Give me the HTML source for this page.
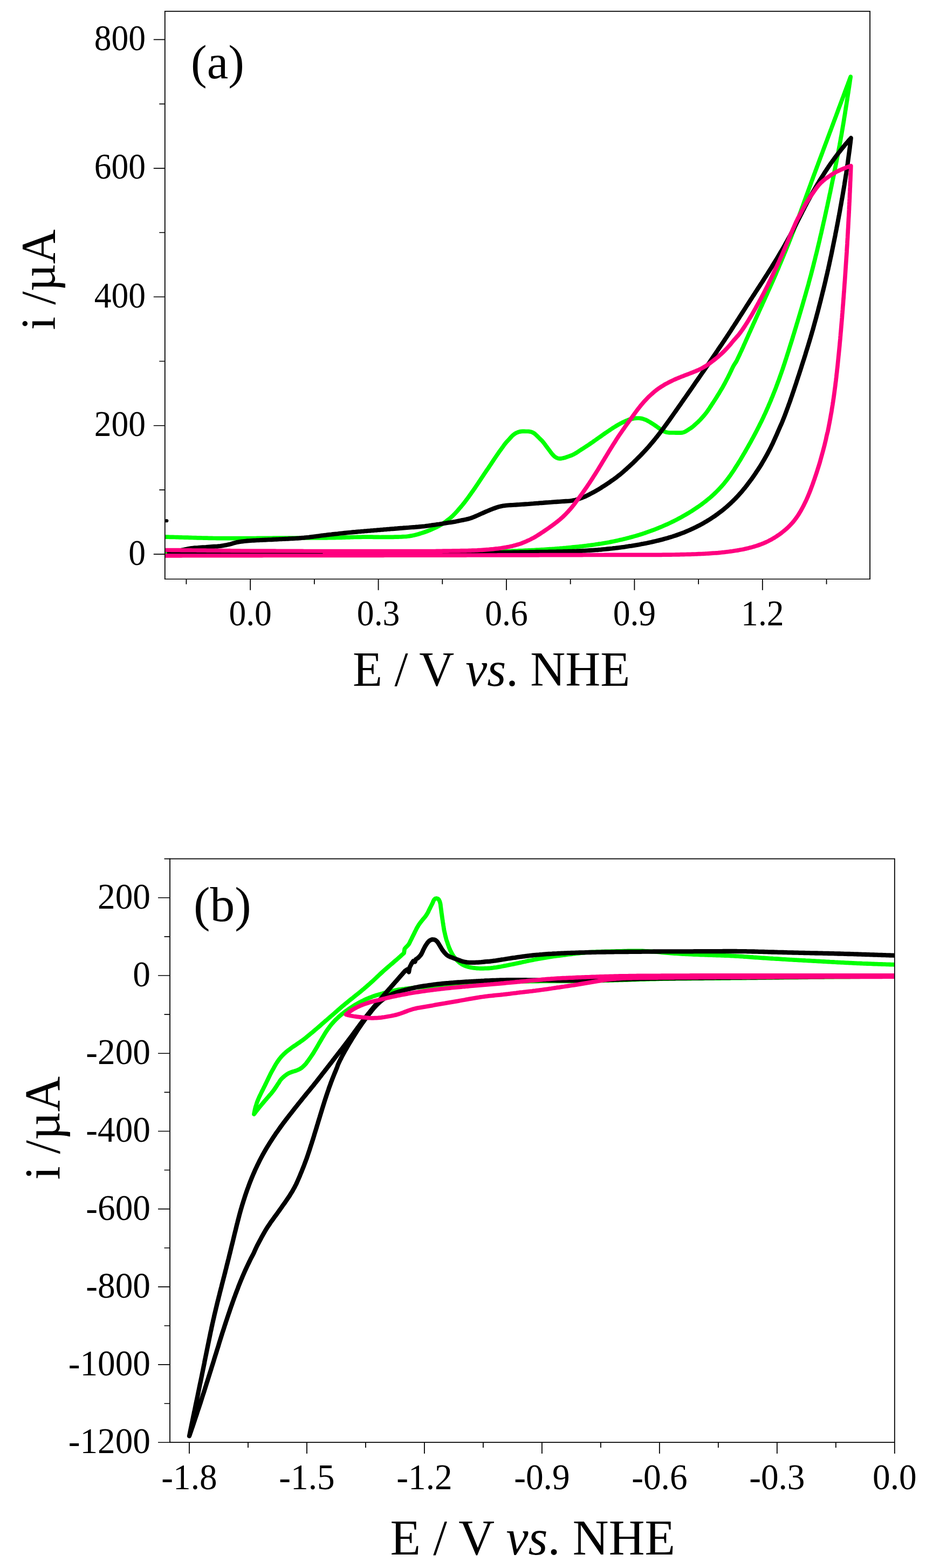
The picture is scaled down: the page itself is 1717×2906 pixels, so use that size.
<!DOCTYPE html>
<html lang="en">
<head>
<meta charset="utf-8">
<title>Cyclic voltammograms</title>
<style>
html,body{margin:0;padding:0;background:#fff;}
body{width:1717px;height:2906px;overflow:hidden;}
svg{display:block;}
text{font-family:"Liberation Serif","DejaVu Serif",serif;fill:#000;}
.tk{font-size:63.6px;}
.tkb{font-size:65.3px;}
.lb{font-size:90px;}
.lbb{font-size:92.5px;}
.pn{font-size:89px;}
.pnb{font-size:91.5px;}
.ln{stroke:#000;fill:none;}
</style>
</head>
<body>
<svg width="1717" height="2906" viewBox="0 0 1717 2906">
<rect x="0" y="0" width="1717" height="2906" fill="#ffffff"/>
<g id="panel-a">
<clipPath id="clip-panel-a"><rect x="305.8" y="20.85" width="1307.25" height="1052.4"/></clipPath>
<g clip-path="url(#clip-panel-a)">
<path d="M300.0 994.8 L303.0 994.9 L306.0 995.0 L309.0 995.1 L312.0 995.2 L315.0 995.3 L318.0 995.4 L321.0 995.4 L324.0 995.5 L327.0 995.6 L330.0 995.7 L333.0 995.8 L336.0 995.9 L339.0 996.0 L342.0 996.1 L345.0 996.1 L348.0 996.2 L351.0 996.3 L354.0 996.4 L357.0 996.5 L360.0 996.6 L363.0 996.7 L366.0 996.8 L369.0 996.8 L372.0 996.9 L375.0 997.0 L378.0 997.1 L381.0 997.2 L384.0 997.2 L387.0 997.3 L390.0 997.4 L393.0 997.4 L396.0 997.5 L399.0 997.5 L402.0 997.6 L405.0 997.6 L408.0 997.6 L411.0 997.7 L414.0 997.7 L417.0 997.7 L420.0 997.7 L423.0 997.7 L426.0 997.7 L429.0 997.7 L432.0 997.7 L435.0 997.7 L438.0 997.7 L441.0 997.7 L444.0 997.7 L447.0 997.7 L450.0 997.6 L453.0 997.6 L456.0 997.6 L459.0 997.6 L462.0 997.5 L465.0 997.5 L468.0 997.5 L471.0 997.5 L474.0 997.5 L477.0 997.4 L480.0 997.4 L483.0 997.4 L486.0 997.4 L489.0 997.4 L492.0 997.3 L495.0 997.3 L498.0 997.3 L501.0 997.3 L504.0 997.3 L507.0 997.2 L510.0 997.2 L513.0 997.2 L516.0 997.2 L519.0 997.1 L522.0 997.1 L525.0 997.1 L528.0 997.1 L531.0 997.1 L534.0 997.1 L537.0 997.0 L540.0 997.0 L543.0 997.0 L546.0 997.0 L549.0 997.0 L552.0 997.0 L555.0 997.0 L558.0 996.9 L561.0 996.9 L564.0 996.9 L567.0 996.9 L570.0 996.9 L573.0 996.9 L576.0 996.9 L579.0 996.9 L582.0 996.9 L585.0 996.9 L588.0 996.9 L591.0 996.9 L594.0 996.8 L597.0 996.8 L600.0 996.8 L603.0 996.8 L606.0 996.8 L609.0 996.7 L612.0 996.7 L615.0 996.7 L618.0 996.6 L621.0 996.6 L624.0 996.5 L627.0 996.4 L630.0 996.4 L633.0 996.3 L636.0 996.2 L639.0 996.1 L642.0 996.0 L645.0 995.9 L648.0 995.8 L651.0 995.7 L654.0 995.6 L657.0 995.5 L660.0 995.5 L663.0 995.4 L666.0 995.3 L669.0 995.3 L672.0 995.2 L675.0 995.2 L678.0 995.2 L681.0 995.1 L684.0 995.2 L687.0 995.2 L690.0 995.2 L693.0 995.3 L696.0 995.3 L699.0 995.4 L702.0 995.4 L705.0 995.5 L708.0 995.4 L711.0 995.4 L714.0 995.4 L717.0 995.3 L720.0 995.3 L723.0 995.3 L726.0 995.3 L729.0 995.3 L732.0 995.2 L735.0 995.2 L738.0 995.1 L741.0 995.0 L744.0 994.9 L747.0 994.7 L750.0 994.5 L753.0 994.3 L756.0 994.0 L758.9 993.6 L761.9 993.1 L764.8 992.6 L767.7 992.0 L770.7 991.3 L773.6 990.5 L776.4 989.7 L779.3 988.8 L782.2 987.9 L785.0 987.0 L787.9 986.0 L790.7 985.0 L793.5 984.0 L796.3 982.9 L799.1 981.7 L801.8 980.5 L804.5 979.3 L807.3 978.0 L810.0 976.7 L812.7 975.4 L815.3 973.9 L817.9 972.4 L820.4 970.9 L822.9 969.2 L825.4 967.5 L827.8 965.7 L830.1 963.9 L832.5 962.0 L834.8 960.1 L837.1 958.1 L839.3 956.1 L841.4 954.0 L843.5 951.9 L845.6 949.7 L847.6 947.5 L849.5 945.2 L851.5 942.9 L853.4 940.6 L855.4 938.4 L857.3 936.1 L859.2 933.8 L861.1 931.4 L862.9 929.0 L864.7 926.6 L866.5 924.2 L868.3 921.8 L870.0 919.3 L871.7 916.9 L873.5 914.4 L875.2 912.0 L877.0 909.6 L878.7 907.1 L880.4 904.7 L882.1 902.2 L883.8 899.7 L885.5 897.2 L887.2 894.7 L888.8 892.2 L890.5 889.7 L892.1 887.2 L893.8 884.7 L895.5 882.2 L897.1 879.7 L898.8 877.2 L900.5 874.7 L902.1 872.2 L903.8 869.8 L905.5 867.3 L907.1 864.8 L908.8 862.3 L910.5 859.8 L912.1 857.3 L913.8 854.8 L915.4 852.3 L917.1 849.8 L918.8 847.3 L920.5 844.8 L922.2 842.3 L923.9 839.9 L925.6 837.4 L927.4 835.0 L929.2 832.6 L930.9 830.1 L932.7 827.7 L934.4 825.3 L936.2 822.9 L938.1 820.5 L940.0 818.3 L942.1 816.1 L944.2 813.9 L946.2 811.7 L948.2 809.4 L950.3 807.3 L952.6 805.4 L955.0 803.6 L957.6 802.2 L960.4 801.0 L963.2 800.1 L966.1 799.6 L969.1 799.4 L972.1 799.4 L975.1 799.5 L978.2 799.5 L981.2 799.7 L984.1 800.2 L986.9 801.1 L989.5 802.5 L992.0 804.2 L994.2 806.3 L996.4 808.3 L998.5 810.5 L1000.6 812.6 L1002.8 814.7 L1004.9 816.8 L1006.9 819.1 L1008.7 821.4 L1010.6 823.8 L1012.3 826.2 L1014.1 828.6 L1015.9 831.0 L1017.7 833.4 L1019.6 835.8 L1021.3 838.3 L1023.2 840.7 L1025.2 843.0 L1027.3 845.2 L1029.6 847.0 L1032.1 848.5 L1034.7 849.5 L1037.5 849.9 L1040.4 849.8 L1043.3 849.3 L1046.2 848.6 L1049.1 847.7 L1052.1 846.6 L1054.9 845.7 L1057.7 844.7 L1060.5 843.6 L1063.2 842.3 L1065.8 840.9 L1068.4 839.4 L1070.9 837.8 L1073.4 836.1 L1075.9 834.4 L1078.4 832.8 L1081.0 831.2 L1083.5 829.6 L1086.0 827.9 L1088.5 826.3 L1091.1 824.7 L1093.5 823.0 L1096.0 821.3 L1098.5 819.6 L1100.9 817.8 L1103.4 816.1 L1105.8 814.4 L1108.3 812.6 L1110.7 810.9 L1113.2 809.2 L1115.6 807.5 L1118.1 805.7 L1120.5 804.0 L1123.0 802.3 L1125.5 800.6 L1128.0 798.9 L1130.5 797.2 L1132.9 795.6 L1135.4 793.9 L1138.0 792.3 L1140.5 790.7 L1143.1 789.1 L1145.6 787.6 L1148.3 786.1 L1150.9 784.7 L1153.6 783.3 L1156.3 782.0 L1159.0 780.8 L1161.7 779.6 L1164.5 778.5 L1167.4 777.5 L1170.2 776.7 L1173.2 776.0 L1176.1 775.5 L1179.1 775.1 L1182.1 775.0 L1185.1 775.0 L1188.0 775.4 L1191.0 775.9 L1193.8 776.8 L1196.6 777.8 L1199.4 779.1 L1202.0 780.5 L1204.6 782.0 L1207.2 783.6 L1209.7 785.2 L1212.2 786.8 L1214.7 788.5 L1217.2 790.2 L1219.6 792.0 L1222.1 793.7 L1224.6 795.4 L1227.1 797.0 L1229.6 798.7 L1232.3 799.9 L1235.1 801.0 L1238.0 801.5 L1241.0 801.8 L1244.0 802.0 L1247.0 802.0 L1250.0 802.0 L1253.1 802.1 L1256.0 802.0 L1259.1 802.2 L1262.1 802.1 L1265.1 801.9 L1267.9 801.1 L1270.6 799.9 L1273.2 798.4 L1275.8 796.8 L1278.3 795.1 L1280.8 793.5 L1283.3 791.8 L1285.6 789.9 L1287.8 787.9 L1290.0 785.8 L1292.2 783.9 L1294.5 781.9 L1296.6 779.7 L1298.7 777.6 L1300.7 775.4 L1302.7 773.2 L1304.7 770.9 L1306.6 768.7 L1308.5 766.3 L1310.3 764.0 L1312.1 761.5 L1313.8 759.1 L1315.5 756.6 L1317.1 754.0 L1318.8 751.5 L1320.4 749.0 L1322.1 746.5 L1323.7 744.0 L1325.3 741.5 L1326.9 739.0 L1328.5 736.4 L1330.1 733.9 L1331.7 731.3 L1333.3 728.8 L1334.8 726.2 L1336.4 723.6 L1337.9 721.1 L1339.5 718.5 L1340.9 715.9 L1342.4 713.2 L1343.8 710.6 L1345.2 708.0 L1346.6 705.3 L1348.0 702.6 L1349.4 700.0 L1350.7 697.3 L1352.1 694.6 L1353.4 691.9 L1354.7 689.2 L1356.0 686.5 L1357.2 683.8 L1358.5 681.1 L1359.9 678.4 L1361.4 675.8 L1363.0 673.4 L1364.6 671.0 L1366.1 668.4 L1367.4 665.7 L1368.7 662.9 L1370.0 660.2 L1371.3 657.5 L1372.5 654.8 L1373.8 652.0 L1375.1 649.3 L1376.3 646.5 L1377.6 643.8 L1378.8 641.0 L1380.0 638.3 L1381.3 635.5 L1382.5 632.8 L1383.7 630.0 L1384.9 627.3 L1386.2 624.5 L1387.4 621.8 L1388.6 619.0 L1389.8 616.3 L1391.1 613.6 L1392.3 610.8 L1393.5 608.1 L1394.8 605.4 L1396.0 602.6 L1397.2 599.9 L1398.5 597.2 L1399.7 594.4 L1400.9 591.7 L1402.2 588.9 L1403.4 586.2 L1404.6 583.5 L1405.9 580.8 L1407.1 578.0 L1408.3 575.3 L1409.6 572.6 L1410.8 569.8 L1412.1 567.1 L1413.3 564.4 L1414.5 561.6 L1415.8 558.9 L1417.0 556.2 L1418.3 553.4 L1419.5 550.7 L1420.7 548.0 L1422.0 545.3 L1423.2 542.5 L1424.4 539.8 L1425.7 537.0 L1426.9 534.3 L1428.1 531.6 L1429.3 528.8 L1430.6 526.1 L1431.8 523.3 L1433.0 520.6 L1434.2 517.8 L1435.4 515.1 L1436.6 512.3 L1437.8 509.6 L1439.0 506.8 L1440.1 504.1 L1441.3 501.3 L1442.5 498.6 L1443.7 495.8 L1444.8 493.0 L1446.0 490.3 L1447.2 487.5 L1448.3 484.8 L1449.5 482.0 L1450.6 479.2 L1451.8 476.4 L1452.9 473.7 L1454.1 470.9 L1455.2 468.1 L1456.4 465.4 L1457.5 462.6 L1458.6 459.8 L1459.8 457.0 L1460.9 454.3 L1462.0 451.5 L1463.1 448.7 L1464.2 445.9 L1465.3 443.1 L1466.4 440.3 L1467.5 437.5 L1468.6 434.7 L1469.7 431.9 L1470.8 429.2 L1471.9 426.4 L1472.9 423.6 L1474.0 420.7 L1475.1 417.9 L1476.1 415.1 L1477.2 412.3 L1478.2 409.5 L1479.3 406.7 L1480.3 403.9 L1481.4 401.1 L1482.4 398.3 L1483.4 395.4 L1484.5 392.6 L1485.5 389.8 L1486.5 387.0 L1487.5 384.2 L1488.6 381.4 L1489.6 378.5 L1490.6 375.7 L1491.6 372.9 L1492.6 370.1 L1493.7 367.2 L1494.7 364.4 L1495.7 361.6 L1496.7 358.8 L1497.8 356.0 L1498.8 353.1 L1499.8 350.3 L1500.8 347.5 L1501.9 344.7 L1502.9 341.9 L1503.9 339.0 L1504.9 336.2 L1506.0 333.4 L1507.0 330.6 L1508.0 327.8 L1509.1 324.9 L1510.1 322.1 L1511.2 319.3 L1512.2 316.5 L1513.3 313.7 L1514.3 310.9 L1515.3 308.1 L1516.4 305.3 L1517.4 302.4 L1518.5 299.6 L1519.5 296.8 L1520.6 294.0 L1521.6 291.2 L1522.7 288.4 L1523.7 285.6 L1524.8 282.8 L1525.8 280.0 L1526.9 277.1 L1527.9 274.3 L1529.0 271.5 L1530.0 268.7 L1531.1 265.9 L1532.1 263.1 L1533.2 260.3 L1534.2 257.5 L1535.3 254.7 L1536.3 251.8 L1537.4 249.0 L1538.4 246.2 L1539.5 243.4 L1540.5 240.6 L1541.6 237.8 L1542.6 235.0 L1543.7 232.2 L1544.7 229.4 L1545.8 226.5 L1546.8 223.7 L1547.9 220.9 L1548.9 218.1 L1550.0 215.3 L1551.0 212.5 L1552.1 209.7 L1553.1 206.9 L1554.1 204.1 L1555.2 201.2 L1556.2 198.4 L1557.3 195.6 L1558.3 192.8 L1559.4 190.0 L1560.4 187.2 L1561.5 184.4 L1562.5 181.6 L1563.6 178.8 L1564.6 175.9 L1565.7 173.1 L1566.7 170.3 L1567.8 167.5 L1568.8 164.7 L1569.9 161.9 L1570.9 159.1 L1572.0 156.3 L1573.0 153.4 L1574.1 150.6 L1575.1 147.8 L1576.2 145.0 L1577.2 142.2 L1577.2 142.2 L1576.8 145.2 L1576.3 148.1 L1575.9 151.1 L1575.5 154.1 L1575.0 157.0 L1574.6 160.0 L1574.1 163.0 L1573.7 165.9 L1573.2 168.9 L1572.8 171.9 L1572.3 174.8 L1571.9 177.8 L1571.4 180.7 L1571.0 183.7 L1570.5 186.7 L1570.0 189.6 L1569.6 192.6 L1569.1 195.6 L1568.6 198.5 L1568.2 201.5 L1567.7 204.4 L1567.2 207.4 L1566.8 210.4 L1566.3 213.3 L1565.8 216.3 L1565.3 219.3 L1564.9 222.2 L1564.4 225.2 L1563.9 228.1 L1563.4 231.1 L1562.9 234.0 L1562.4 237.0 L1561.9 240.0 L1561.4 242.9 L1560.9 245.9 L1560.4 248.8 L1559.9 251.8 L1559.3 254.7 L1558.8 257.7 L1558.3 260.6 L1557.8 263.6 L1557.2 266.5 L1556.7 269.5 L1556.1 272.4 L1555.6 275.4 L1555.0 278.3 L1554.5 281.2 L1553.9 284.2 L1553.4 287.1 L1552.8 290.1 L1552.2 293.0 L1551.6 296.0 L1551.1 298.9 L1550.5 301.8 L1549.9 304.8 L1549.3 307.7 L1548.7 310.7 L1548.1 313.6 L1547.5 316.5 L1546.9 319.5 L1546.4 322.4 L1545.8 325.3 L1545.2 328.3 L1544.6 331.2 L1543.9 334.1 L1543.3 337.1 L1542.7 340.0 L1542.1 342.9 L1541.5 345.9 L1540.9 348.8 L1540.3 351.7 L1539.7 354.7 L1539.1 357.6 L1538.4 360.5 L1537.8 363.5 L1537.2 366.4 L1536.6 369.3 L1535.9 372.3 L1535.3 375.2 L1534.7 378.1 L1534.1 381.1 L1533.4 384.0 L1532.8 386.9 L1532.1 389.8 L1531.5 392.8 L1530.9 395.7 L1530.2 398.6 L1529.6 401.6 L1528.9 404.5 L1528.3 407.4 L1527.6 410.3 L1526.9 413.2 L1526.3 416.2 L1525.6 419.1 L1525.0 422.0 L1524.3 424.9 L1523.6 427.9 L1523.0 430.8 L1522.3 433.7 L1521.6 436.6 L1520.9 439.5 L1520.2 442.5 L1519.6 445.4 L1518.9 448.3 L1518.2 451.2 L1517.5 454.1 L1516.8 457.0 L1516.1 460.0 L1515.4 462.9 L1514.7 465.8 L1514.0 468.7 L1513.3 471.6 L1512.5 474.5 L1511.8 477.4 L1511.1 480.3 L1510.4 483.2 L1509.6 486.1 L1508.9 489.0 L1508.2 492.0 L1507.4 494.9 L1506.7 497.8 L1505.9 500.7 L1505.2 503.6 L1504.4 506.5 L1503.7 509.3 L1502.9 512.2 L1502.1 515.1 L1501.3 518.0 L1500.5 520.9 L1499.7 523.8 L1499.0 526.7 L1498.2 529.6 L1497.4 532.5 L1496.5 535.4 L1495.7 538.2 L1494.9 541.1 L1494.1 544.0 L1493.3 546.9 L1492.4 549.8 L1491.6 552.7 L1490.8 555.5 L1489.9 558.4 L1489.1 561.3 L1488.3 564.2 L1487.4 567.1 L1486.6 569.9 L1485.7 572.8 L1484.9 575.7 L1484.0 578.6 L1483.2 581.4 L1482.3 584.3 L1481.5 587.2 L1480.6 590.1 L1479.7 592.9 L1478.9 595.8 L1478.0 598.7 L1477.1 601.5 L1476.3 604.4 L1475.4 607.3 L1474.5 610.2 L1473.7 613.0 L1472.8 615.9 L1471.9 618.8 L1471.0 621.6 L1470.2 624.5 L1469.3 627.4 L1468.4 630.2 L1467.5 633.1 L1466.6 636.0 L1465.7 638.8 L1464.8 641.7 L1463.9 644.5 L1463.0 647.4 L1462.1 650.3 L1461.2 653.1 L1460.3 656.0 L1459.4 658.8 L1458.5 661.7 L1457.6 664.6 L1456.6 667.4 L1455.7 670.3 L1454.8 673.1 L1453.8 676.0 L1452.9 678.8 L1451.9 681.7 L1451.0 684.5 L1450.0 687.3 L1449.0 690.2 L1448.0 693.0 L1447.0 695.8 L1446.0 698.6 L1445.0 701.5 L1444.0 704.3 L1442.9 707.1 L1441.9 709.9 L1440.9 712.7 L1439.8 715.5 L1438.8 718.3 L1437.7 721.1 L1436.6 723.9 L1435.5 726.6 L1434.4 729.4 L1433.3 732.2 L1432.2 735.0 L1431.0 737.7 L1429.9 740.5 L1428.8 743.3 L1427.6 746.0 L1426.4 748.8 L1425.2 751.6 L1424.1 754.3 L1422.8 757.0 L1421.6 759.8 L1420.4 762.5 L1419.2 765.2 L1417.9 768.0 L1416.6 770.7 L1415.4 773.4 L1414.1 776.1 L1412.8 778.8 L1411.5 781.5 L1410.1 784.2 L1408.8 786.8 L1407.5 789.5 L1406.1 792.2 L1404.8 794.9 L1403.4 797.5 L1402.0 800.2 L1400.6 802.8 L1399.2 805.5 L1397.8 808.1 L1396.4 810.8 L1394.9 813.4 L1393.5 816.0 L1392.1 818.7 L1390.6 821.3 L1389.1 823.9 L1387.7 826.5 L1386.2 829.1 L1384.7 831.7 L1383.2 834.4 L1381.7 837.0 L1380.2 839.6 L1378.7 842.1 L1377.2 844.7 L1375.6 847.3 L1374.1 849.9 L1372.6 852.5 L1371.0 855.0 L1369.4 857.6 L1367.8 860.2 L1366.2 862.7 L1364.6 865.2 L1363.0 867.7 L1361.4 870.3 L1359.7 872.8 L1358.1 875.2 L1356.4 877.7 L1354.7 880.2 L1352.9 882.6 L1351.2 885.0 L1349.4 887.4 L1347.6 889.8 L1345.7 892.1 L1343.9 894.4 L1342.0 896.7 L1340.0 899.0 L1338.1 901.2 L1336.1 903.4 L1334.0 905.6 L1332.0 907.8 L1329.9 909.9 L1327.8 912.0 L1325.6 914.1 L1323.5 916.1 L1321.3 918.1 L1319.1 920.1 L1316.8 922.1 L1314.5 924.0 L1312.2 925.9 L1309.9 927.8 L1307.5 929.7 L1305.1 931.5 L1302.7 933.3 L1300.3 935.1 L1297.9 936.8 L1295.4 938.6 L1292.9 940.3 L1290.4 942.0 L1287.9 943.6 L1285.4 945.3 L1282.9 946.9 L1280.3 948.5 L1277.8 950.1 L1275.2 951.6 L1272.6 953.1 L1270.0 954.7 L1267.4 956.1 L1264.8 957.6 L1262.2 959.1 L1259.5 960.5 L1256.9 961.9 L1254.2 963.3 L1251.6 964.6 L1248.9 966.0 L1246.2 967.3 L1243.5 968.6 L1240.8 969.9 L1238.1 971.2 L1235.3 972.4 L1232.6 973.6 L1229.8 974.8 L1227.1 976.0 L1224.3 977.1 L1221.5 978.3 L1218.8 979.4 L1216.0 980.5 L1213.2 981.6 L1210.4 982.6 L1207.6 983.7 L1204.8 984.7 L1201.9 985.7 L1199.1 986.7 L1196.3 987.7 L1193.4 988.6 L1190.6 989.6 L1187.7 990.5 L1184.9 991.4 L1182.0 992.2 L1179.1 993.1 L1176.2 993.9 L1173.3 994.7 L1170.5 995.5 L1167.6 996.3 L1164.7 997.1 L1161.8 997.8 L1158.9 998.6 L1155.9 999.3 L1153.0 1000.0 L1150.1 1000.6 L1147.2 1001.3 L1144.3 1001.9 L1141.3 1002.6 L1138.4 1003.2 L1135.5 1003.8 L1132.5 1004.4 L1129.6 1005.0 L1126.6 1005.5 L1123.7 1006.0 L1120.7 1006.5 L1117.8 1007.0 L1114.8 1007.5 L1111.8 1007.9 L1108.9 1008.4 L1105.9 1008.8 L1102.9 1009.3 L1100.0 1009.7 L1097.0 1010.1 L1094.0 1010.5 L1091.0 1010.9 L1088.1 1011.3 L1085.1 1011.7 L1082.1 1012.0 L1079.1 1012.4 L1076.2 1012.7 L1073.2 1013.0 L1070.2 1013.3 L1067.2 1013.6 L1064.2 1013.9 L1061.2 1014.2 L1058.3 1014.5 L1055.3 1014.8 L1052.3 1015.1 L1049.3 1015.4 L1046.3 1015.6 L1043.3 1015.9 L1040.3 1016.1 L1037.3 1016.4 L1034.4 1016.6 L1031.4 1016.8 L1028.4 1017.1 L1025.4 1017.3 L1022.4 1017.5 L1019.4 1017.7 L1016.4 1017.9 L1013.4 1018.1 L1010.4 1018.3 L1007.4 1018.5 L1004.4 1018.6 L1001.4 1018.8 L998.5 1019.0 L995.5 1019.1 L992.5 1019.3 L989.5 1019.5 L986.5 1019.6 L983.5 1019.8 L980.5 1019.9 L977.5 1020.1 L974.5 1020.2 L971.5 1020.3 L968.5 1020.5 L965.5 1020.6 L962.5 1020.7 L959.5 1020.9 L956.5 1021.0 L953.5 1021.1 L950.5 1021.2 L947.5 1021.4 L944.5 1021.5 L941.5 1021.6 L938.6 1021.7 L935.6 1021.8 L932.6 1021.9 L929.6 1022.0 L926.6 1022.1 L923.6 1022.2 L920.6 1022.3 L917.6 1022.4 L914.6 1022.5 L911.6 1022.6 L908.6 1022.7 L905.6 1022.8 L902.6 1022.8 L899.6 1022.9 L896.6 1023.0 L893.6 1023.1 L890.6 1023.2 L887.6 1023.2 L884.6 1023.3 L881.6 1023.4 L878.6 1023.4 L875.6 1023.5 L872.6 1023.6 L869.6 1023.7 L866.6 1023.7 L863.6 1023.8 L860.6 1023.9 L857.6 1023.9 L854.6 1024.0 L851.6 1024.1 L848.6 1024.1 L845.6 1024.2 L842.6 1024.2 L839.6 1024.3 L836.7 1024.3 L833.7 1024.4 L830.7 1024.4 L827.7 1024.5 L824.7 1024.5 L821.7 1024.6 L818.7 1024.6 L815.7 1024.7 L812.7 1024.7 L809.7 1024.8 L806.7 1024.8 L803.7 1024.8 L800.7 1024.9 L797.7 1024.9 L794.7 1024.9 L791.7 1025.0 L788.7 1025.0 L785.7 1025.0 L782.7 1025.0 L779.7 1025.1 L776.7 1025.1 L773.7 1025.1 L770.7 1025.1 L767.7 1025.1 L764.7 1025.1 L761.7 1025.2 L758.7 1025.2 L755.7 1025.2 L752.7 1025.2 L749.7 1025.2 L746.7 1025.2 L743.7 1025.2 L740.7 1025.2 L737.7 1025.2 L734.7 1025.2 L731.7 1025.2 L728.7 1025.2 L725.7 1025.2 L722.7 1025.2 L719.7 1025.2 L716.7 1025.2 L713.7 1025.2 L710.7 1025.2 L707.7 1025.2 L704.7 1025.2 L701.7 1025.2 L698.7 1025.3 L695.7 1025.3 L692.7 1025.3 L689.8 1025.3 L686.8 1025.3 L683.8 1025.3 L680.8 1025.3 L677.8 1025.3 L674.8 1025.3 L671.8 1025.3 L668.8 1025.3 L665.8 1025.3 L662.8 1025.3 L659.8 1025.4 L656.8 1025.4 L653.8 1025.4 L650.8 1025.4 L647.8 1025.4 L644.8 1025.4 L641.8 1025.4 L638.8 1025.4 L635.8 1025.4 L632.8 1025.4 L629.8 1025.4 L626.8 1025.4 L623.8 1025.4 L620.8 1025.4 L617.8 1025.5 L614.8 1025.5 L611.8 1025.5 L608.8 1025.5 L605.8 1025.5 L602.8 1025.5 L599.8 1025.5 L596.8 1025.5 L593.8 1025.5 L590.8 1025.5 L587.8 1025.5 L584.8 1025.5 L581.8 1025.5 L578.8 1025.5 L575.8 1025.5 L572.8 1025.5 L569.8 1025.5 L566.8 1025.5 L563.8 1025.5 L560.8 1025.5 L557.8 1025.5 L554.8 1025.5 L551.8 1025.5 L548.8 1025.5 L545.8 1025.5 L542.8 1025.5 L539.8 1025.5 L536.8 1025.5 L533.9 1025.5 L530.9 1025.5 L527.9 1025.5 L524.9 1025.5 L521.9 1025.5 L518.9 1025.5 L515.9 1025.5 L512.9 1025.5 L509.9 1025.5 L506.9 1025.5 L503.9 1025.5 L500.9 1025.5 L497.9 1025.5 L494.9 1025.5 L491.9 1025.5 L488.9 1025.5 L485.9 1025.5 L482.9 1025.5 L479.9 1025.5 L476.9 1025.5 L473.9 1025.5 L470.9 1025.5 L467.9 1025.5 L464.9 1025.5 L461.9 1025.5 L458.9 1025.5 L455.9 1025.5 L452.9 1025.5 L449.9 1025.5 L446.9 1025.5 L443.9 1025.5 L440.9 1025.5 L437.9 1025.5 L434.9 1025.5 L431.9 1025.5 L428.9 1025.5 L425.9 1025.5 L422.9 1025.5 L419.9 1025.5 L416.9 1025.5 L413.9 1025.5 L410.9 1025.5 L407.9 1025.5 L404.9 1025.5 L401.9 1025.5 L398.9 1025.5 L395.9 1025.5 L392.9 1025.5 L389.9 1025.5 L386.9 1025.5 L383.9 1025.5 L380.9 1025.5 L378.0 1025.5 L375.0 1025.5 L372.0 1025.5 L369.0 1025.5 L366.0 1025.5 L363.0 1025.5 L360.0 1025.5 L357.0 1025.5 L354.0 1025.5 L351.0 1025.5 L348.0 1025.5 L345.0 1025.5 L342.0 1025.5 L339.0 1025.5 L336.0 1025.5 L333.0 1025.5 L330.0 1025.5 L327.0 1025.5 L324.0 1025.5 L321.0 1025.5 L318.0 1025.5 L315.0 1025.5 L312.0 1025.5 L309.0 1025.5 L306.0 1025.5 L303.0 1025.5 L300.0 1025.5" fill="none" stroke="#00ff00" stroke-width="7.7" stroke-linejoin="round" stroke-linecap="round"/>
<path d="M313.7 1024.5 L316.6 1023.9 L319.6 1023.3 L322.5 1022.6 L325.4 1022.0 L328.4 1021.4 L331.3 1020.8 L334.3 1020.2 L337.2 1019.5 L340.1 1018.9 L343.1 1018.3 L346.0 1017.6 L348.9 1017.0 L351.9 1016.5 L354.9 1016.0 L357.8 1015.7 L360.8 1015.4 L363.8 1015.2 L366.8 1015.1 L369.8 1014.8 L372.8 1014.6 L375.8 1014.4 L378.8 1014.2 L381.8 1014.0 L384.8 1013.7 L387.8 1013.5 L390.8 1013.3 L393.8 1013.1 L396.8 1012.9 L399.8 1012.8 L402.8 1012.6 L405.7 1012.3 L408.7 1012.0 L411.7 1011.5 L414.6 1011.0 L417.6 1010.4 L420.5 1009.9 L423.5 1009.3 L426.4 1008.6 L429.3 1007.8 L432.2 1006.9 L435.1 1006.1 L438.0 1005.3 L440.9 1004.7 L443.8 1004.2 L446.8 1003.7 L449.8 1003.4 L452.8 1003.0 L455.8 1002.7 L458.7 1002.4 L461.7 1002.2 L464.7 1002.0 L467.7 1001.8 L470.7 1001.6 L473.7 1001.5 L476.7 1001.3 L479.7 1001.2 L482.7 1001.0 L485.7 1000.9 L488.7 1000.7 L491.7 1000.6 L494.7 1000.5 L497.7 1000.3 L500.7 1000.2 L503.7 1000.1 L506.7 999.9 L509.7 999.8 L512.7 999.6 L515.7 999.5 L518.7 999.3 L521.7 999.2 L524.7 999.0 L527.7 998.9 L530.7 998.7 L533.7 998.6 L536.7 998.4 L539.7 998.3 L542.7 998.1 L545.7 998.0 L548.7 997.8 L551.7 997.6 L554.7 997.4 L557.7 997.1 L560.6 996.8 L563.6 996.6 L566.6 996.3 L569.6 996.0 L572.6 995.7 L575.6 995.3 L578.5 994.9 L581.5 994.6 L584.5 994.2 L587.5 993.8 L590.5 993.4 L593.4 993.0 L596.4 992.6 L599.4 992.2 L602.4 991.9 L605.4 991.5 L608.3 991.1 L611.3 990.8 L614.3 990.5 L617.3 990.1 L620.3 989.8 L623.2 989.5 L626.2 989.2 L629.2 988.8 L632.2 988.5 L635.2 988.2 L638.2 987.9 L641.2 987.6 L644.1 987.3 L647.1 987.0 L650.1 986.7 L653.1 986.4 L656.1 986.1 L659.1 985.9 L662.1 985.6 L665.1 985.3 L668.1 985.1 L671.1 984.8 L674.0 984.6 L677.0 984.3 L680.0 984.1 L683.0 983.8 L686.0 983.6 L689.0 983.3 L692.0 983.1 L695.0 982.8 L698.0 982.6 L701.0 982.3 L704.0 982.1 L707.0 981.8 L709.9 981.6 L712.9 981.3 L715.9 981.1 L718.9 980.8 L721.9 980.6 L724.9 980.3 L727.9 980.1 L730.9 979.9 L733.9 979.6 L736.9 979.4 L739.9 979.1 L742.9 978.9 L745.9 978.7 L748.8 978.4 L751.8 978.2 L754.8 978.0 L757.8 977.8 L760.8 977.5 L763.8 977.3 L766.8 977.1 L769.8 976.9 L772.8 976.6 L775.8 976.4 L778.8 976.1 L781.8 975.8 L784.8 975.5 L787.7 975.2 L790.7 974.8 L793.7 974.4 L796.7 974.0 L799.6 973.6 L802.6 973.1 L805.6 972.7 L808.5 972.3 L811.5 971.8 L814.5 971.4 L817.5 970.9 L820.4 970.5 L823.4 970.0 L826.4 969.5 L829.3 969.1 L832.3 968.6 L835.3 968.2 L838.2 967.7 L841.2 967.2 L844.2 966.7 L847.1 966.1 L850.0 965.5 L853.0 964.9 L855.9 964.3 L858.9 963.7 L861.8 963.1 L864.7 962.5 L867.7 961.8 L870.6 961.0 L873.4 960.1 L876.2 959.1 L879.0 958.0 L881.8 956.8 L884.5 955.6 L887.3 954.4 L890.0 953.1 L892.7 951.9 L895.5 950.7 L898.2 949.5 L901.0 948.3 L903.8 947.1 L906.5 946.0 L909.3 944.8 L912.1 943.7 L914.9 942.6 L917.7 941.6 L920.5 940.6 L923.4 939.7 L926.3 938.9 L929.2 938.2 L932.1 937.6 L935.1 937.2 L938.1 936.8 L941.1 936.5 L944.1 936.3 L947.1 936.1 L950.1 936.0 L953.1 935.8 L956.1 935.6 L959.0 935.4 L962.0 935.2 L965.0 935.0 L968.0 934.8 L971.0 934.6 L974.0 934.4 L977.0 934.2 L980.0 934.0 L983.0 933.7 L986.0 933.5 L989.0 933.3 L992.0 933.0 L995.0 932.8 L998.0 932.6 L1001.0 932.3 L1004.0 932.1 L1006.9 931.9 L1009.9 931.6 L1012.9 931.4 L1015.9 931.2 L1018.9 931.0 L1021.9 930.8 L1024.9 930.5 L1027.9 930.3 L1030.9 930.1 L1033.9 929.9 L1036.9 929.7 L1039.9 929.5 L1042.9 929.3 L1045.9 929.1 L1048.9 928.9 L1051.9 928.7 L1054.9 928.5 L1057.9 928.2 L1060.9 927.8 L1063.8 927.2 L1066.7 926.6 L1069.6 925.8 L1072.5 925.0 L1075.3 924.0 L1078.1 923.0 L1080.9 921.8 L1083.7 920.7 L1086.4 919.5 L1089.1 918.2 L1091.8 916.8 L1094.5 915.4 L1097.1 914.0 L1099.8 912.6 L1102.4 911.2 L1105.0 909.7 L1107.6 908.2 L1110.2 906.7 L1112.8 905.1 L1115.3 903.5 L1117.8 901.9 L1120.4 900.3 L1122.9 898.6 L1125.4 897.0 L1127.9 895.3 L1130.4 893.6 L1132.8 891.9 L1135.3 890.2 L1137.8 888.5 L1140.2 886.7 L1142.6 884.9 L1145.0 883.1 L1147.3 881.2 L1149.7 879.4 L1152.0 877.5 L1154.3 875.5 L1156.6 873.6 L1158.8 871.6 L1161.1 869.6 L1163.3 867.6 L1165.5 865.6 L1167.7 863.5 L1169.9 861.5 L1172.1 859.4 L1174.3 857.4 L1176.4 855.3 L1178.6 853.2 L1180.7 851.0 L1182.8 848.9 L1185.0 846.8 L1187.1 844.7 L1189.1 842.6 L1191.2 840.4 L1193.2 838.3 L1195.2 836.1 L1197.2 834.0 L1199.2 831.8 L1201.2 829.6 L1203.2 827.3 L1205.2 825.0 L1207.1 822.7 L1209.1 820.4 L1211.0 818.1 L1212.9 815.8 L1214.8 813.5 L1216.7 811.1 L1218.6 808.8 L1220.4 806.4 L1222.3 804.0 L1224.1 801.6 L1225.9 799.2 L1227.7 796.8 L1229.6 794.4 L1231.4 792.0 L1233.1 789.6 L1234.9 787.1 L1236.7 784.7 L1238.5 782.2 L1240.2 779.8 L1242.0 777.3 L1243.7 774.9 L1245.5 772.4 L1247.2 770.0 L1248.9 767.5 L1250.7 765.0 L1252.4 762.6 L1254.1 760.1 L1255.9 757.6 L1257.6 755.2 L1259.3 752.7 L1261.0 750.3 L1262.8 747.8 L1264.5 745.3 L1266.2 742.9 L1267.9 740.4 L1269.7 737.9 L1271.4 735.5 L1273.1 733.0 L1274.8 730.6 L1276.5 728.1 L1278.3 725.6 L1280.0 723.2 L1281.7 720.7 L1283.4 718.2 L1285.1 715.7 L1286.8 713.3 L1288.5 710.8 L1290.2 708.3 L1291.9 705.9 L1293.7 703.4 L1295.4 700.9 L1297.1 698.5 L1298.8 696.0 L1300.5 693.5 L1302.2 691.0 L1303.9 688.6 L1305.6 686.1 L1307.3 683.6 L1309.0 681.2 L1310.7 678.7 L1312.4 676.2 L1314.1 673.7 L1315.8 671.2 L1317.4 668.8 L1319.1 666.3 L1320.8 663.8 L1322.5 661.3 L1324.2 658.8 L1325.9 656.4 L1327.6 653.9 L1329.3 651.4 L1330.9 648.9 L1332.6 646.4 L1334.3 643.9 L1336.0 641.4 L1337.7 639.0 L1339.3 636.5 L1341.0 634.0 L1342.7 631.5 L1344.3 629.0 L1346.0 626.5 L1347.7 624.0 L1349.3 621.5 L1351.0 619.0 L1352.6 616.5 L1354.3 614.0 L1355.9 611.5 L1357.5 608.9 L1359.2 606.4 L1360.8 603.9 L1362.4 601.4 L1364.1 598.9 L1365.7 596.3 L1367.3 593.8 L1369.0 591.3 L1370.6 588.8 L1372.2 586.2 L1373.8 583.7 L1375.4 581.2 L1377.0 578.7 L1378.7 576.1 L1380.3 573.6 L1381.9 571.1 L1383.5 568.5 L1385.1 566.0 L1386.8 563.5 L1388.4 561.0 L1390.0 558.5 L1391.6 555.9 L1393.3 553.4 L1394.9 550.9 L1396.5 548.4 L1398.2 545.9 L1399.8 543.3 L1401.4 540.8 L1403.1 538.3 L1404.7 535.8 L1406.3 533.3 L1408.0 530.7 L1409.6 528.2 L1411.2 525.7 L1412.9 523.2 L1414.5 520.7 L1416.1 518.2 L1417.7 515.6 L1419.3 513.1 L1421.0 510.6 L1422.6 508.0 L1424.2 505.5 L1425.8 503.0 L1427.4 500.4 L1429.0 497.9 L1430.6 495.4 L1432.1 492.8 L1433.7 490.3 L1435.3 487.7 L1436.9 485.1 L1438.4 482.6 L1440.0 480.0 L1441.5 477.5 L1443.1 474.9 L1444.6 472.3 L1446.1 469.7 L1447.6 467.2 L1449.2 464.6 L1450.7 462.0 L1452.2 459.4 L1453.7 456.8 L1455.2 454.2 L1456.6 451.6 L1458.1 449.0 L1459.6 446.4 L1461.0 443.7 L1462.5 441.1 L1463.9 438.5 L1465.4 435.9 L1466.8 433.2 L1468.2 430.6 L1469.6 427.9 L1471.0 425.3 L1472.4 422.6 L1473.8 420.0 L1475.2 417.3 L1476.6 414.6 L1477.9 411.9 L1479.3 409.3 L1480.6 406.6 L1482.0 403.9 L1483.4 401.2 L1484.7 398.5 L1486.1 395.9 L1487.4 393.2 L1488.8 390.5 L1490.2 387.8 L1491.5 385.2 L1492.9 382.5 L1494.3 379.8 L1495.7 377.2 L1497.1 374.5 L1498.5 371.9 L1500.0 369.3 L1501.4 366.6 L1502.8 364.0 L1504.3 361.4 L1505.8 358.8 L1507.2 356.2 L1508.7 353.5 L1510.2 350.9 L1511.7 348.4 L1513.2 345.8 L1514.7 343.2 L1516.2 340.6 L1517.8 338.1 L1519.3 335.5 L1520.9 333.0 L1522.5 330.4 L1524.1 327.9 L1525.7 325.4 L1527.3 322.8 L1528.9 320.3 L1530.5 317.8 L1532.2 315.3 L1533.8 312.8 L1535.5 310.3 L1537.1 307.8 L1538.8 305.4 L1540.5 302.9 L1542.3 300.5 L1544.0 298.0 L1545.8 295.6 L1547.5 293.2 L1549.3 290.8 L1551.1 288.4 L1552.9 286.0 L1554.7 283.6 L1556.6 281.2 L1558.4 278.9 L1560.3 276.5 L1562.2 274.2 L1564.1 271.9 L1566.0 269.5 L1567.9 267.2 L1569.9 264.9 L1571.9 262.6 L1573.8 260.3 L1575.8 258.1 L1577.8 255.8 L1577.8 255.8 L1577.5 258.8 L1577.1 261.8 L1576.8 264.7 L1576.4 267.7 L1576.0 270.7 L1575.7 273.6 L1575.3 276.6 L1574.9 279.6 L1574.5 282.6 L1574.1 285.5 L1573.7 288.5 L1573.3 291.5 L1572.9 294.4 L1572.5 297.4 L1572.1 300.4 L1571.7 303.3 L1571.2 306.3 L1570.8 309.3 L1570.5 312.2 L1570.0 315.2 L1569.5 318.2 L1569.1 321.1 L1568.6 324.1 L1568.1 327.0 L1567.7 330.0 L1567.2 333.0 L1566.7 335.9 L1566.2 338.9 L1565.8 341.8 L1565.3 344.8 L1564.8 347.8 L1564.3 350.7 L1563.8 353.7 L1563.3 356.6 L1562.8 359.6 L1562.3 362.5 L1561.8 365.5 L1561.3 368.4 L1560.7 371.4 L1560.2 374.4 L1559.7 377.3 L1559.2 380.3 L1558.6 383.2 L1558.1 386.2 L1557.6 389.1 L1557.1 392.1 L1556.5 395.0 L1556.0 398.0 L1555.4 400.9 L1554.9 403.9 L1554.3 406.8 L1553.8 409.7 L1553.2 412.7 L1552.7 415.6 L1552.1 418.6 L1551.5 421.5 L1551.0 424.5 L1550.4 427.4 L1549.8 430.4 L1549.2 433.3 L1548.7 436.2 L1548.1 439.2 L1547.5 442.1 L1546.9 445.1 L1546.3 448.0 L1545.7 450.9 L1545.1 453.9 L1544.5 456.8 L1543.9 459.7 L1543.3 462.7 L1542.7 465.6 L1542.1 468.6 L1541.5 471.5 L1540.9 474.4 L1540.2 477.4 L1539.6 480.3 L1539.0 483.2 L1538.3 486.1 L1537.7 489.1 L1537.1 492.0 L1536.4 494.9 L1535.8 497.8 L1535.1 500.8 L1534.4 503.7 L1533.8 506.6 L1533.1 509.5 L1532.4 512.5 L1531.7 515.4 L1531.1 518.3 L1530.4 521.2 L1529.7 524.1 L1529.0 527.1 L1528.3 530.0 L1527.6 532.9 L1526.9 535.8 L1526.2 538.7 L1525.4 541.6 L1524.7 544.5 L1524.0 547.4 L1523.3 550.3 L1522.5 553.3 L1521.8 556.2 L1521.1 559.1 L1520.3 562.0 L1519.6 564.9 L1518.8 567.8 L1518.1 570.7 L1517.3 573.6 L1516.6 576.5 L1515.8 579.4 L1515.0 582.3 L1514.2 585.2 L1513.5 588.1 L1512.7 591.0 L1511.9 593.9 L1511.1 596.7 L1510.3 599.6 L1509.5 602.5 L1508.7 605.4 L1507.9 608.3 L1507.1 611.2 L1506.2 614.1 L1505.4 616.9 L1504.6 619.8 L1503.7 622.7 L1502.9 625.6 L1502.0 628.5 L1501.2 631.3 L1500.3 634.2 L1499.4 637.1 L1498.6 639.9 L1497.7 642.8 L1496.8 645.7 L1495.9 648.5 L1495.0 651.4 L1494.1 654.3 L1493.3 657.1 L1492.4 660.0 L1491.5 662.8 L1490.6 665.7 L1489.6 668.6 L1488.7 671.4 L1487.8 674.3 L1486.9 677.1 L1486.0 680.0 L1485.1 682.9 L1484.2 685.7 L1483.2 688.6 L1482.3 691.4 L1481.4 694.3 L1480.4 697.1 L1479.5 700.0 L1478.6 702.8 L1477.6 705.7 L1476.7 708.6 L1475.8 711.4 L1474.8 714.3 L1473.9 717.1 L1472.9 720.0 L1472.0 722.8 L1471.0 725.7 L1470.0 728.5 L1469.1 731.3 L1468.1 734.2 L1467.1 737.0 L1466.1 739.9 L1465.2 742.7 L1464.2 745.5 L1463.1 748.4 L1462.1 751.2 L1461.1 754.0 L1460.1 756.8 L1459.0 759.6 L1458.0 762.5 L1456.9 765.3 L1455.9 768.1 L1454.8 770.9 L1453.7 773.7 L1452.6 776.5 L1451.5 779.2 L1450.4 782.0 L1449.2 784.8 L1448.0 787.5 L1446.8 790.2 L1445.6 792.9 L1444.4 795.6 L1443.2 798.4 L1442.0 801.1 L1440.9 803.8 L1439.7 806.6 L1438.4 809.3 L1437.2 812.0 L1436.0 814.7 L1434.7 817.5 L1433.5 820.2 L1432.2 822.9 L1430.9 825.6 L1429.6 828.2 L1428.3 830.9 L1426.9 833.6 L1425.5 836.2 L1424.1 838.9 L1422.7 841.5 L1421.3 844.1 L1419.8 846.7 L1418.3 849.3 L1416.9 851.9 L1415.3 854.5 L1413.8 857.1 L1412.3 859.7 L1410.7 862.2 L1409.1 864.8 L1407.5 867.3 L1405.9 869.8 L1404.2 872.3 L1402.5 874.8 L1400.9 877.3 L1399.2 879.8 L1397.5 882.3 L1395.7 884.7 L1394.0 887.2 L1392.2 889.6 L1390.4 892.0 L1388.6 894.4 L1386.8 896.8 L1385.0 899.2 L1383.2 901.5 L1381.3 903.9 L1379.4 906.2 L1377.5 908.5 L1375.6 910.8 L1373.6 913.1 L1371.6 915.3 L1369.6 917.6 L1367.6 919.8 L1365.6 921.9 L1363.5 924.1 L1361.4 926.2 L1359.3 928.3 L1357.1 930.4 L1354.9 932.5 L1352.7 934.5 L1350.5 936.5 L1348.3 938.5 L1346.0 940.5 L1343.7 942.4 L1341.4 944.3 L1339.1 946.2 L1336.7 948.0 L1334.3 949.8 L1331.9 951.6 L1329.5 953.4 L1327.1 955.1 L1324.6 956.9 L1322.1 958.5 L1319.6 960.2 L1317.1 961.8 L1314.6 963.4 L1312.0 965.0 L1309.5 966.6 L1306.9 968.1 L1304.3 969.6 L1301.7 971.0 L1299.0 972.5 L1296.4 973.9 L1293.7 975.2 L1291.0 976.6 L1288.3 977.9 L1285.6 979.2 L1282.9 980.4 L1280.2 981.7 L1277.4 982.9 L1274.7 984.1 L1271.9 985.2 L1269.2 986.4 L1266.4 987.5 L1263.6 988.5 L1260.8 989.6 L1257.9 990.6 L1255.1 991.6 L1252.3 992.6 L1249.4 993.5 L1246.6 994.5 L1243.7 995.4 L1240.9 996.2 L1238.0 997.1 L1235.1 997.9 L1232.2 998.7 L1229.3 999.5 L1226.4 1000.3 L1223.5 1001.0 L1220.6 1001.7 L1217.7 1002.4 L1214.8 1003.1 L1211.9 1003.8 L1208.9 1004.5 L1206.0 1005.1 L1203.1 1005.7 L1200.1 1006.4 L1197.2 1007.0 L1194.3 1007.5 L1191.3 1008.1 L1188.4 1008.6 L1185.4 1009.2 L1182.5 1009.7 L1179.5 1010.2 L1176.5 1010.7 L1173.6 1011.2 L1170.6 1011.7 L1167.7 1012.1 L1164.7 1012.6 L1161.7 1013.0 L1158.8 1013.5 L1155.8 1013.9 L1152.8 1014.3 L1149.8 1014.7 L1146.9 1015.1 L1143.9 1015.4 L1140.9 1015.8 L1137.9 1016.1 L1135.0 1016.5 L1132.0 1016.8 L1129.0 1017.1 L1126.0 1017.4 L1123.0 1017.7 L1120.0 1018.0 L1117.1 1018.3 L1114.1 1018.6 L1111.1 1018.8 L1108.1 1019.1 L1105.1 1019.3 L1102.1 1019.5 L1099.1 1019.7 L1096.1 1019.9 L1093.1 1020.1 L1090.1 1020.3 L1087.2 1020.5 L1084.2 1020.7 L1081.2 1020.8 L1078.2 1021.0 L1075.2 1021.1 L1072.2 1021.2 L1069.2 1021.4 L1066.2 1021.5 L1063.2 1021.6 L1060.2 1021.7 L1057.2 1021.8 L1054.2 1021.9 L1051.2 1022.0 L1048.2 1022.1 L1045.2 1022.1 L1042.2 1022.2 L1039.2 1022.3 L1036.2 1022.3 L1033.2 1022.4 L1030.2 1022.5 L1027.2 1022.5 L1024.2 1022.6 L1021.2 1022.6 L1018.2 1022.6 L1015.2 1022.7 L1012.2 1022.7 L1009.2 1022.7 L1006.2 1022.8 L1003.2 1022.8 L1000.2 1022.8 L997.2 1022.9 L994.2 1022.9 L991.2 1023.0 L988.2 1023.0 L985.3 1023.1 L982.3 1023.1 L979.3 1023.2 L976.3 1023.2 L973.3 1023.3 L970.3 1023.3 L967.3 1023.4 L964.3 1023.4 L961.3 1023.5 L958.3 1023.5 L955.3 1023.6 L952.3 1023.6 L949.3 1023.7 L946.3 1023.7 L943.3 1023.8 L940.3 1023.8 L937.3 1023.9 L934.3 1023.9 L931.3 1024.0 L928.3 1024.0 L925.3 1024.1 L922.3 1024.1 L919.3 1024.1 L916.3 1024.2 L913.3 1024.2 L910.3 1024.3 L907.3 1024.3 L904.3 1024.3 L901.3 1024.3 L898.3 1024.4 L895.3 1024.4 L892.3 1024.4 L889.3 1024.4 L886.3 1024.5 L883.3 1024.5 L880.3 1024.5 L877.3 1024.5 L874.3 1024.6 L871.3 1024.6 L868.3 1024.6 L865.3 1024.6 L862.3 1024.6 L859.3 1024.6 L856.3 1024.6 L853.3 1024.6 L850.4 1024.6 L847.4 1024.6 L844.4 1024.6 L841.4 1024.6 L838.4 1024.6 L835.4 1024.7 L832.4 1024.7 L829.4 1024.7 L826.4 1024.7 L823.4 1024.7 L820.4 1024.7 L817.4 1024.7 L814.4 1024.7 L811.4 1024.7 L808.4 1024.7 L805.4 1024.8 L802.4 1024.8 L799.4 1024.8 L796.4 1024.8 L793.4 1024.8 L790.4 1024.8 L787.4 1024.8 L784.4 1024.8 L781.4 1024.8 L778.4 1024.9 L775.4 1024.9 L772.4 1024.9 L769.4 1024.9 L766.4 1024.9 L763.4 1024.9 L760.4 1024.9 L757.4 1024.9 L754.4 1024.9 L751.4 1025.0 L748.4 1025.0 L745.4 1025.0 L742.4 1025.0 L739.4 1025.0 L736.4 1025.0 L733.4 1025.0 L730.4 1025.0 L727.4 1025.0 L724.4 1025.1 L721.4 1025.1 L718.4 1025.1 L715.4 1025.1 L712.4 1025.1 L709.4 1025.1 L706.4 1025.1 L703.4 1025.1 L700.4 1025.1 L697.5 1025.1 L694.5 1025.2 L691.5 1025.2 L688.5 1025.2 L685.5 1025.2 L682.5 1025.2 L679.5 1025.2 L676.5 1025.2 L673.5 1025.2 L670.5 1025.3 L667.5 1025.3 L664.5 1025.3 L661.5 1025.3 L658.5 1025.3 L655.5 1025.3 L652.5 1025.3 L649.5 1025.3 L646.5 1025.3 L643.5 1025.4 L640.5 1025.4 L637.5 1025.4 L634.5 1025.4 L631.5 1025.4 L628.5 1025.4 L625.5 1025.4 L622.5 1025.4 L619.5 1025.4 L616.5 1025.4 L613.5 1025.4 L610.5 1025.4 L607.5 1025.5 L604.5 1025.5 L601.5 1025.5 L598.5 1025.5 L595.5 1025.5 L592.5 1025.5 L589.5 1025.5 L586.5 1025.5 L583.5 1025.5 L580.5 1025.5 L577.5 1025.5 L574.5 1025.5 L571.5 1025.5 L568.5 1025.5 L565.5 1025.5 L562.5 1025.5 L559.5 1025.5 L556.5 1025.5 L553.5 1025.5 L550.5 1025.5 L547.5 1025.5 L544.6 1025.5 L541.6 1025.5 L538.6 1025.4 L535.6 1025.4 L532.6 1025.4 L529.6 1025.4 L526.6 1025.4 L523.6 1025.4 L520.6 1025.4 L517.6 1025.4 L514.6 1025.4 L511.6 1025.4 L508.6 1025.4 L505.6 1025.4 L502.6 1025.4 L499.6 1025.4 L496.6 1025.4 L493.6 1025.4 L490.6 1025.4 L487.6 1025.4 L484.6 1025.4 L481.6 1025.4 L478.6 1025.4 L475.6 1025.4 L472.6 1025.4 L469.6 1025.4 L466.6 1025.4 L463.6 1025.4 L460.6 1025.4 L457.6 1025.4 L454.6 1025.3 L451.6 1025.3 L448.6 1025.3 L445.6 1025.3 L442.6 1025.3 L439.6 1025.3 L436.6 1025.3 L433.6 1025.3 L430.6 1025.3 L427.6 1025.3 L424.6 1025.3 L421.6 1025.3 L418.6 1025.3 L415.6 1025.3 L412.6 1025.3 L409.6 1025.3 L406.6 1025.3 L403.6 1025.3 L400.6 1025.3 L397.6 1025.3 L394.6 1025.3 L391.6 1025.3 L388.7 1025.3 L385.7 1025.3 L382.7 1025.3 L379.7 1025.3 L376.7 1025.3 L373.7 1025.3 L370.7 1025.3 L367.7 1025.3 L364.7 1025.3 L361.7 1025.3 L358.7 1025.2 L355.7 1025.2 L352.7 1025.2 L349.7 1025.2 L346.7 1025.2 L343.7 1025.2 L340.7 1025.2 L337.7 1025.2 L334.7 1025.2 L331.7 1025.2 L328.7 1025.2 L325.7 1025.2 L322.7 1025.2 L319.7 1025.2 L316.7 1025.2 L313.7 1025.2" fill="none" stroke="#000000" stroke-width="8.1" stroke-linejoin="round" stroke-linecap="round"/>
<path d="M300.0 1019.4 L303.0 1019.4 L306.0 1019.5 L309.0 1019.5 L312.0 1019.5 L315.0 1019.5 L318.0 1019.6 L321.0 1019.6 L324.0 1019.6 L327.0 1019.7 L330.0 1019.7 L333.0 1019.7 L336.0 1019.8 L339.0 1019.8 L342.0 1019.8 L345.0 1019.8 L348.0 1019.9 L351.0 1019.9 L354.0 1019.9 L357.0 1020.0 L360.0 1020.0 L363.0 1020.0 L366.0 1020.1 L369.0 1020.1 L372.0 1020.1 L375.0 1020.2 L378.0 1020.2 L381.0 1020.2 L384.0 1020.3 L387.0 1020.3 L390.0 1020.3 L393.0 1020.4 L395.9 1020.4 L398.9 1020.4 L401.9 1020.5 L404.9 1020.5 L407.9 1020.5 L410.9 1020.6 L413.9 1020.6 L416.9 1020.6 L419.9 1020.7 L422.9 1020.7 L425.9 1020.7 L428.9 1020.8 L431.9 1020.8 L434.9 1020.8 L437.9 1020.9 L440.9 1020.9 L443.9 1020.9 L446.9 1021.0 L449.9 1021.0 L452.9 1021.0 L455.9 1021.0 L458.9 1021.0 L461.9 1021.0 L464.9 1021.1 L467.9 1021.1 L470.9 1021.1 L473.9 1021.1 L476.9 1021.1 L479.9 1021.1 L482.9 1021.1 L485.9 1021.2 L488.9 1021.2 L491.9 1021.2 L494.9 1021.2 L497.9 1021.2 L500.9 1021.2 L503.9 1021.2 L506.9 1021.2 L509.9 1021.2 L512.9 1021.3 L515.9 1021.3 L518.9 1021.3 L521.9 1021.3 L524.9 1021.3 L527.9 1021.3 L530.9 1021.3 L533.9 1021.3 L536.9 1021.3 L539.9 1021.4 L542.9 1021.4 L545.9 1021.4 L548.9 1021.4 L551.9 1021.4 L554.9 1021.4 L557.9 1021.4 L560.9 1021.4 L563.9 1021.5 L566.9 1021.5 L569.9 1021.5 L572.9 1021.5 L575.9 1021.5 L578.9 1021.5 L581.9 1021.5 L584.9 1021.5 L587.9 1021.6 L590.9 1021.6 L593.8 1021.6 L596.8 1021.6 L599.8 1021.6 L602.8 1021.6 L605.8 1021.6 L608.8 1021.6 L611.8 1021.6 L614.8 1021.6 L617.8 1021.6 L620.8 1021.6 L623.8 1021.6 L626.8 1021.6 L629.8 1021.6 L632.8 1021.6 L635.8 1021.6 L638.8 1021.6 L641.8 1021.6 L644.8 1021.6 L647.8 1021.6 L650.8 1021.6 L653.8 1021.6 L656.8 1021.6 L659.8 1021.6 L662.8 1021.6 L665.8 1021.6 L668.8 1021.6 L671.8 1021.6 L674.8 1021.6 L677.8 1021.6 L680.8 1021.6 L683.8 1021.6 L686.8 1021.6 L689.8 1021.6 L692.8 1021.6 L695.8 1021.6 L698.8 1021.6 L701.8 1021.6 L704.8 1021.6 L707.8 1021.6 L710.8 1021.6 L713.8 1021.6 L716.8 1021.6 L719.8 1021.6 L722.8 1021.6 L725.8 1021.6 L728.8 1021.6 L731.8 1021.6 L734.8 1021.6 L737.8 1021.6 L740.8 1021.6 L743.8 1021.6 L746.8 1021.6 L749.8 1021.6 L752.8 1021.6 L755.8 1021.6 L758.8 1021.6 L761.8 1021.6 L764.8 1021.6 L767.8 1021.6 L770.8 1021.6 L773.8 1021.6 L776.8 1021.6 L779.8 1021.6 L782.8 1021.6 L785.8 1021.6 L788.8 1021.6 L791.8 1021.6 L794.8 1021.6 L797.8 1021.6 L800.8 1021.5 L803.7 1021.5 L806.7 1021.5 L809.7 1021.4 L812.7 1021.4 L815.7 1021.3 L818.7 1021.3 L821.7 1021.2 L824.7 1021.2 L827.7 1021.1 L830.7 1021.1 L833.7 1021.0 L836.7 1021.0 L839.7 1020.9 L842.7 1020.9 L845.7 1020.9 L848.7 1020.8 L851.7 1020.8 L854.7 1020.7 L857.7 1020.7 L860.7 1020.6 L863.7 1020.6 L866.7 1020.5 L869.7 1020.4 L872.7 1020.3 L875.7 1020.2 L878.7 1020.1 L881.7 1020.0 L884.7 1019.9 L887.7 1019.7 L890.7 1019.5 L893.7 1019.3 L896.7 1019.1 L899.7 1018.9 L902.6 1018.7 L905.6 1018.5 L908.6 1018.2 L911.6 1017.9 L914.6 1017.6 L917.6 1017.2 L920.6 1016.9 L923.5 1016.6 L926.5 1016.2 L929.5 1015.8 L932.5 1015.3 L935.4 1014.8 L938.4 1014.3 L941.3 1013.7 L944.3 1013.2 L947.2 1012.6 L950.1 1011.9 L953.0 1011.1 L955.9 1010.4 L958.8 1009.5 L961.7 1008.7 L964.5 1007.8 L967.3 1006.8 L970.1 1005.7 L972.9 1004.6 L975.6 1003.4 L978.4 1002.1 L981.1 1000.9 L983.8 999.6 L986.4 998.2 L989.1 996.8 L991.7 995.3 L994.3 993.8 L996.8 992.2 L999.4 990.6 L1001.9 989.0 L1004.4 987.3 L1006.9 985.7 L1009.4 984.0 L1011.9 982.3 L1014.4 980.6 L1016.9 978.9 L1019.3 977.2 L1021.8 975.4 L1024.2 973.6 L1026.6 971.9 L1029.0 970.1 L1031.4 968.2 L1033.8 966.4 L1036.1 964.5 L1038.4 962.6 L1040.6 960.6 L1042.9 958.6 L1045.0 956.6 L1047.2 954.5 L1049.3 952.4 L1051.4 950.2 L1053.4 948.1 L1055.4 945.8 L1057.4 943.6 L1059.4 941.3 L1061.3 939.0 L1063.1 936.7 L1065.0 934.3 L1066.8 931.9 L1068.5 929.4 L1070.3 927.0 L1072.1 924.6 L1073.9 922.2 L1075.7 919.8 L1077.5 917.4 L1079.2 915.0 L1081.0 912.5 L1082.7 910.0 L1084.4 907.6 L1086.1 905.1 L1087.8 902.7 L1089.5 900.2 L1091.2 897.7 L1092.9 895.2 L1094.5 892.7 L1096.2 890.2 L1097.8 887.7 L1099.4 885.2 L1101.0 882.6 L1102.6 880.1 L1104.2 877.6 L1105.8 875.0 L1107.4 872.5 L1109.0 869.9 L1110.5 867.4 L1112.1 864.8 L1113.7 862.2 L1115.2 859.7 L1116.8 857.1 L1118.3 854.6 L1119.9 852.0 L1121.4 849.4 L1123.0 846.9 L1124.5 844.3 L1126.1 841.7 L1127.6 839.2 L1129.2 836.6 L1130.8 834.0 L1132.3 831.5 L1133.9 828.9 L1135.5 826.4 L1137.1 823.8 L1138.7 821.3 L1140.3 818.8 L1141.9 816.2 L1143.5 813.7 L1145.2 811.2 L1146.8 808.7 L1148.5 806.2 L1150.2 803.7 L1151.8 801.3 L1153.5 798.8 L1155.3 796.3 L1157.0 793.9 L1158.7 791.4 L1160.4 789.0 L1162.2 786.5 L1163.9 784.1 L1165.7 781.7 L1167.5 779.3 L1169.2 776.8 L1171.0 774.4 L1172.8 772.0 L1174.5 769.5 L1176.3 767.1 L1178.0 764.7 L1179.8 762.3 L1181.6 759.9 L1183.4 757.5 L1185.3 755.1 L1187.1 752.8 L1189.0 750.5 L1191.0 748.2 L1192.9 745.9 L1194.9 743.7 L1197.0 741.5 L1199.0 739.3 L1201.1 737.1 L1203.2 735.0 L1205.4 733.0 L1207.6 731.0 L1209.9 729.0 L1212.1 727.0 L1214.5 725.1 L1216.8 723.2 L1219.2 721.4 L1221.6 719.7 L1224.1 718.0 L1226.6 716.3 L1229.2 714.8 L1231.7 713.2 L1234.3 711.7 L1237.0 710.3 L1239.6 708.9 L1242.3 707.5 L1245.0 706.2 L1247.7 704.9 L1250.4 703.6 L1253.2 702.4 L1255.9 701.3 L1258.7 700.1 L1261.5 699.0 L1264.2 697.8 L1267.0 696.8 L1269.8 695.7 L1272.6 694.7 L1275.4 693.6 L1278.2 692.5 L1281.0 691.4 L1283.8 690.3 L1286.6 689.2 L1289.4 688.1 L1292.2 686.9 L1294.9 685.7 L1297.6 684.4 L1300.3 683.1 L1302.9 681.7 L1305.5 680.2 L1308.1 678.7 L1310.6 677.1 L1313.1 675.4 L1315.5 673.6 L1318.0 671.8 L1320.4 670.0 L1322.8 668.2 L1325.1 666.4 L1327.5 664.5 L1329.8 662.6 L1332.1 660.7 L1334.3 658.7 L1336.6 656.7 L1338.8 654.6 L1340.9 652.6 L1343.1 650.5 L1345.2 648.3 L1347.3 646.2 L1349.3 644.0 L1351.3 641.7 L1353.3 639.5 L1355.2 637.2 L1357.1 634.9 L1359.0 632.6 L1360.9 630.3 L1362.9 628.1 L1364.8 625.9 L1366.8 623.7 L1368.7 621.6 L1370.5 619.3 L1372.3 616.9 L1374.1 614.4 L1375.9 612.0 L1377.6 609.5 L1379.3 607.0 L1381.0 604.5 L1382.6 601.9 L1384.3 599.4 L1385.9 596.8 L1387.5 594.3 L1389.0 591.7 L1390.6 589.1 L1392.1 586.5 L1393.7 583.9 L1395.2 581.3 L1396.7 578.7 L1398.2 576.0 L1399.7 573.4 L1401.2 570.8 L1402.6 568.2 L1404.1 565.5 L1405.5 562.9 L1407.0 560.3 L1408.4 557.6 L1409.9 555.0 L1411.3 552.4 L1412.7 549.7 L1414.1 547.1 L1415.5 544.4 L1416.9 541.7 L1418.3 539.1 L1419.6 536.4 L1421.0 533.7 L1422.3 531.1 L1423.7 528.4 L1425.0 525.7 L1426.3 523.0 L1427.6 520.3 L1428.9 517.6 L1430.2 514.9 L1431.5 512.2 L1432.8 509.5 L1434.1 506.7 L1435.4 504.0 L1436.6 501.3 L1437.9 498.6 L1439.2 495.9 L1440.4 493.2 L1441.7 490.4 L1443.0 487.7 L1444.2 485.0 L1445.5 482.3 L1446.7 479.5 L1447.9 476.8 L1449.2 474.1 L1450.4 471.3 L1451.6 468.6 L1452.8 465.8 L1454.0 463.1 L1455.2 460.3 L1456.3 457.6 L1457.5 454.8 L1458.7 452.0 L1459.8 449.2 L1461.0 446.5 L1462.2 443.7 L1463.3 440.9 L1464.5 438.1 L1465.7 435.4 L1466.9 432.6 L1468.1 429.8 L1469.2 427.1 L1470.4 424.3 L1471.7 421.5 L1472.9 418.8 L1474.1 416.0 L1475.3 413.2 L1476.6 410.5 L1477.9 407.8 L1479.2 405.0 L1480.7 402.5 L1482.1 400.0 L1483.5 397.4 L1484.9 394.8 L1486.2 392.2 L1487.7 389.5 L1489.1 386.9 L1490.5 384.2 L1491.9 381.6 L1493.3 379.0 L1494.8 376.4 L1496.4 373.8 L1498.0 371.3 L1499.6 368.7 L1501.3 366.2 L1503.0 363.8 L1504.7 361.3 L1506.5 358.9 L1508.2 356.5 L1509.9 354.0 L1511.7 351.5 L1513.4 349.1 L1515.2 346.7 L1517.1 344.4 L1519.0 342.1 L1521.0 339.9 L1523.2 337.8 L1525.4 335.8 L1527.6 333.9 L1530.0 332.0 L1532.4 330.2 L1534.9 328.5 L1537.3 326.8 L1539.8 325.1 L1542.3 323.5 L1544.9 321.9 L1547.5 320.4 L1550.1 318.9 L1552.8 317.6 L1555.5 316.3 L1558.2 315.0 L1560.9 313.8 L1563.7 312.7 L1566.5 311.6 L1569.3 310.4 L1572.1 309.4 L1574.9 308.4 L1577.8 307.5 L1577.8 307.5 L1577.7 310.5 L1577.6 313.5 L1577.5 316.5 L1577.4 319.5 L1577.2 322.5 L1577.1 325.5 L1577.0 328.5 L1576.9 331.5 L1576.8 334.5 L1576.6 337.5 L1576.5 340.4 L1576.4 343.4 L1576.3 346.4 L1576.1 349.4 L1576.0 352.4 L1575.9 355.4 L1575.7 358.4 L1575.6 361.4 L1575.5 364.4 L1575.4 367.4 L1575.2 370.4 L1575.1 373.4 L1574.9 376.4 L1574.8 379.4 L1574.6 382.4 L1574.5 385.4 L1574.4 388.4 L1574.2 391.4 L1574.1 394.3 L1573.9 397.3 L1573.8 400.3 L1573.6 403.3 L1573.4 406.3 L1573.3 409.3 L1573.1 412.3 L1573.0 415.3 L1572.8 418.3 L1572.7 421.3 L1572.5 424.3 L1572.3 427.3 L1572.2 430.3 L1572.0 433.3 L1571.8 436.3 L1571.7 439.2 L1571.5 442.2 L1571.3 445.2 L1571.1 448.2 L1571.0 451.2 L1570.8 454.2 L1570.6 457.2 L1570.4 460.2 L1570.2 463.2 L1570.1 466.2 L1569.9 469.2 L1569.7 472.2 L1569.5 475.1 L1569.3 478.1 L1569.1 481.1 L1568.9 484.1 L1568.7 487.1 L1568.5 490.1 L1568.3 493.1 L1568.1 496.1 L1567.9 499.1 L1567.7 502.1 L1567.5 505.1 L1567.3 508.1 L1567.1 511.0 L1566.9 514.0 L1566.7 517.0 L1566.5 520.0 L1566.3 523.0 L1566.0 526.0 L1565.8 529.0 L1565.6 532.0 L1565.4 535.0 L1565.2 538.0 L1565.0 540.9 L1564.7 543.9 L1564.5 546.9 L1564.3 549.9 L1564.1 552.9 L1563.8 555.9 L1563.6 558.9 L1563.4 561.9 L1563.2 564.9 L1562.9 567.8 L1562.7 570.8 L1562.5 573.8 L1562.2 576.8 L1562.0 579.8 L1561.7 582.8 L1561.5 585.8 L1561.3 588.8 L1561.0 591.8 L1560.8 594.7 L1560.5 597.7 L1560.3 600.7 L1560.0 603.7 L1559.8 606.7 L1559.5 609.7 L1559.3 612.7 L1559.0 615.7 L1558.7 618.6 L1558.5 621.6 L1558.2 624.6 L1558.0 627.6 L1557.7 630.6 L1557.4 633.6 L1557.1 636.6 L1556.9 639.5 L1556.6 642.5 L1556.3 645.5 L1556.0 648.5 L1555.7 651.5 L1555.4 654.5 L1555.1 657.5 L1554.8 660.4 L1554.5 663.4 L1554.2 666.4 L1553.9 669.4 L1553.6 672.4 L1553.3 675.4 L1553.0 678.3 L1552.7 681.3 L1552.3 684.3 L1552.0 687.3 L1551.7 690.3 L1551.3 693.2 L1551.0 696.2 L1550.7 699.2 L1550.3 702.2 L1550.0 705.2 L1549.6 708.1 L1549.2 711.1 L1548.9 714.1 L1548.5 717.1 L1548.1 720.1 L1547.7 723.0 L1547.3 726.0 L1546.9 729.0 L1546.5 732.0 L1546.1 734.9 L1545.7 737.9 L1545.2 740.9 L1544.8 743.8 L1544.3 746.8 L1543.9 749.8 L1543.4 752.7 L1542.9 755.7 L1542.4 758.7 L1542.0 761.6 L1541.5 764.6 L1540.9 767.5 L1540.4 770.5 L1539.9 773.4 L1539.4 776.4 L1538.8 779.3 L1538.3 782.3 L1537.7 785.2 L1537.1 788.2 L1536.6 791.1 L1536.0 794.1 L1535.4 797.0 L1534.8 800.0 L1534.0 802.8 L1533.3 805.7 L1532.6 808.6 L1532.0 811.5 L1531.4 814.4 L1530.7 817.3 L1530.0 820.2 L1529.3 823.2 L1528.6 826.1 L1527.8 829.0 L1527.0 831.9 L1526.3 834.8 L1525.5 837.7 L1524.7 840.6 L1523.9 843.4 L1523.1 846.3 L1522.3 849.2 L1521.5 852.1 L1520.7 855.0 L1519.9 857.9 L1519.0 860.7 L1518.1 863.6 L1517.2 866.5 L1516.3 869.3 L1515.4 872.2 L1514.5 875.0 L1513.5 877.9 L1512.6 880.7 L1511.6 883.6 L1510.7 886.4 L1509.7 889.2 L1508.7 892.1 L1507.7 894.9 L1506.7 897.7 L1505.7 900.5 L1504.6 903.3 L1503.6 906.2 L1502.5 909.0 L1501.4 911.7 L1500.3 914.5 L1499.1 917.3 L1498.0 920.1 L1496.8 922.8 L1495.6 925.6 L1494.3 928.3 L1493.0 931.0 L1491.7 933.7 L1490.4 936.4 L1489.0 939.0 L1487.6 941.7 L1486.1 944.3 L1484.7 946.9 L1483.1 949.5 L1481.6 952.1 L1480.0 954.6 L1478.3 957.1 L1476.6 959.6 L1474.8 962.0 L1473.0 964.4 L1471.1 966.7 L1469.2 969.0 L1467.2 971.2 L1465.1 973.4 L1463.0 975.5 L1460.9 977.6 L1458.7 979.6 L1456.4 981.6 L1454.1 983.5 L1451.8 985.4 L1449.4 987.3 L1447.0 989.1 L1444.6 990.8 L1442.1 992.5 L1439.7 994.2 L1437.1 995.8 L1434.5 997.3 L1432.0 998.8 L1429.3 1000.3 L1426.7 1001.7 L1424.1 1003.1 L1421.4 1004.4 L1418.6 1005.6 L1415.9 1006.8 L1413.1 1007.9 L1410.3 1009.0 L1407.5 1010.0 L1404.7 1011.0 L1401.8 1011.9 L1399.0 1012.7 L1396.1 1013.6 L1393.2 1014.4 L1390.3 1015.1 L1387.4 1015.9 L1384.5 1016.6 L1381.5 1017.2 L1378.6 1017.9 L1375.7 1018.5 L1372.7 1019.0 L1369.8 1019.6 L1366.8 1020.1 L1363.9 1020.5 L1360.9 1021.0 L1357.9 1021.5 L1355.0 1021.9 L1352.0 1022.3 L1349.0 1022.7 L1346.0 1023.0 L1343.1 1023.4 L1340.1 1023.7 L1337.1 1024.0 L1334.1 1024.3 L1331.1 1024.6 L1328.1 1024.8 L1325.2 1025.0 L1322.2 1025.2 L1319.2 1025.4 L1316.2 1025.6 L1313.2 1025.8 L1310.2 1026.0 L1307.2 1026.2 L1304.2 1026.3 L1301.2 1026.5 L1298.2 1026.6 L1295.2 1026.7 L1292.2 1026.8 L1289.2 1027.0 L1286.2 1027.1 L1283.2 1027.2 L1280.2 1027.3 L1277.2 1027.3 L1274.2 1027.4 L1271.3 1027.5 L1268.3 1027.6 L1265.3 1027.7 L1262.3 1027.7 L1259.3 1027.8 L1256.3 1027.8 L1253.3 1027.9 L1250.3 1028.0 L1247.3 1028.0 L1244.3 1028.1 L1241.3 1028.1 L1238.3 1028.2 L1235.3 1028.2 L1232.3 1028.2 L1229.3 1028.2 L1226.3 1028.3 L1223.3 1028.3 L1220.3 1028.3 L1217.3 1028.3 L1214.3 1028.3 L1211.3 1028.3 L1208.3 1028.3 L1205.3 1028.3 L1202.3 1028.3 L1199.3 1028.3 L1196.3 1028.3 L1193.3 1028.3 L1190.3 1028.3 L1187.3 1028.3 L1184.3 1028.3 L1181.3 1028.3 L1178.3 1028.3 L1175.3 1028.3 L1172.3 1028.3 L1169.3 1028.3 L1166.3 1028.3 L1163.3 1028.3 L1160.3 1028.3 L1157.3 1028.4 L1154.3 1028.4 L1151.3 1028.4 L1148.3 1028.4 L1145.4 1028.4 L1142.4 1028.4 L1139.4 1028.4 L1136.4 1028.4 L1133.4 1028.4 L1130.4 1028.4 L1127.4 1028.4 L1124.4 1028.4 L1121.4 1028.4 L1118.4 1028.5 L1115.4 1028.5 L1112.4 1028.5 L1109.4 1028.5 L1106.4 1028.5 L1103.4 1028.5 L1100.4 1028.5 L1097.4 1028.5 L1094.4 1028.5 L1091.4 1028.5 L1088.4 1028.5 L1085.4 1028.5 L1082.4 1028.5 L1079.4 1028.6 L1076.4 1028.6 L1073.4 1028.6 L1070.4 1028.6 L1067.4 1028.6 L1064.4 1028.6 L1061.4 1028.6 L1058.4 1028.6 L1055.4 1028.6 L1052.4 1028.6 L1049.4 1028.6 L1046.4 1028.6 L1043.4 1028.6 L1040.4 1028.6 L1037.4 1028.7 L1034.4 1028.7 L1031.4 1028.7 L1028.4 1028.7 L1025.4 1028.7 L1022.4 1028.7 L1019.4 1028.7 L1016.5 1028.7 L1013.5 1028.7 L1010.5 1028.7 L1007.5 1028.7 L1004.5 1028.7 L1001.5 1028.7 L998.5 1028.8 L995.5 1028.8 L992.5 1028.8 L989.5 1028.8 L986.5 1028.8 L983.5 1028.8 L980.5 1028.8 L977.5 1028.8 L974.5 1028.8 L971.5 1028.8 L968.5 1028.8 L965.5 1028.8 L962.5 1028.8 L959.5 1028.9 L956.5 1028.9 L953.5 1028.9 L950.5 1028.9 L947.5 1028.9 L944.5 1028.9 L941.5 1028.9 L938.5 1028.9 L935.5 1028.9 L932.5 1028.9 L929.5 1028.9 L926.5 1028.9 L923.5 1028.9 L920.5 1029.0 L917.5 1029.0 L914.5 1029.0 L911.5 1029.0 L908.5 1029.0 L905.5 1029.0 L902.5 1029.0 L899.5 1029.0 L896.5 1029.0 L893.5 1029.0 L890.5 1029.0 L887.5 1029.0 L884.6 1029.0 L881.6 1029.0 L878.6 1029.0 L875.6 1029.0 L872.6 1029.0 L869.6 1029.0 L866.6 1029.0 L863.6 1029.1 L860.6 1029.1 L857.6 1029.1 L854.6 1029.1 L851.6 1029.1 L848.6 1029.1 L845.6 1029.1 L842.6 1029.1 L839.6 1029.1 L836.6 1029.1 L833.6 1029.1 L830.6 1029.1 L827.6 1029.1 L824.6 1029.1 L821.6 1029.1 L818.6 1029.1 L815.6 1029.1 L812.6 1029.1 L809.6 1029.1 L806.6 1029.1 L803.6 1029.1 L800.6 1029.1 L797.6 1029.1 L794.6 1029.1 L791.6 1029.1 L788.6 1029.1 L785.6 1029.2 L782.6 1029.2 L779.6 1029.2 L776.6 1029.2 L773.6 1029.2 L770.6 1029.2 L767.6 1029.2 L764.6 1029.2 L761.6 1029.2 L758.6 1029.2 L755.7 1029.2 L752.7 1029.2 L749.7 1029.2 L746.7 1029.2 L743.7 1029.2 L740.7 1029.2 L737.7 1029.2 L734.7 1029.2 L731.7 1029.2 L728.7 1029.2 L725.7 1029.2 L722.7 1029.2 L719.7 1029.2 L716.7 1029.2 L713.7 1029.2 L710.7 1029.3 L707.7 1029.3 L704.7 1029.3 L701.7 1029.3 L698.7 1029.3 L695.7 1029.3 L692.7 1029.3 L689.7 1029.3 L686.7 1029.3 L683.7 1029.3 L680.7 1029.3 L677.7 1029.3 L674.7 1029.3 L671.7 1029.3 L668.7 1029.3 L665.7 1029.3 L662.7 1029.3 L659.7 1029.3 L656.7 1029.3 L653.7 1029.3 L650.7 1029.3 L647.7 1029.3 L644.7 1029.3 L641.7 1029.3 L638.7 1029.3 L635.7 1029.4 L632.7 1029.4 L629.7 1029.4 L626.7 1029.4 L623.8 1029.4 L620.8 1029.4 L617.8 1029.4 L614.8 1029.4 L611.8 1029.4 L608.8 1029.4 L605.8 1029.4 L602.8 1029.4 L599.8 1029.4 L596.8 1029.4 L593.8 1029.4 L590.8 1029.4 L587.8 1029.4 L584.8 1029.4 L581.8 1029.4 L578.8 1029.4 L575.8 1029.4 L572.8 1029.4 L569.8 1029.4 L566.8 1029.4 L563.8 1029.4 L560.8 1029.5 L557.8 1029.5 L554.8 1029.5 L551.8 1029.5 L548.8 1029.5 L545.8 1029.5 L542.8 1029.5 L539.8 1029.5 L536.8 1029.5 L533.8 1029.5 L530.8 1029.5 L527.8 1029.5 L524.8 1029.5 L521.8 1029.5 L518.8 1029.5 L515.8 1029.5 L512.8 1029.5 L509.8 1029.5 L506.8 1029.5 L503.8 1029.5 L500.8 1029.5 L497.8 1029.5 L494.9 1029.5 L491.9 1029.5 L488.9 1029.5 L485.9 1029.6 L482.9 1029.6 L479.9 1029.6 L476.9 1029.6 L473.9 1029.6 L470.9 1029.6 L467.9 1029.6 L464.9 1029.6 L461.9 1029.6 L458.9 1029.6 L455.9 1029.6 L452.9 1029.6 L449.9 1029.6 L446.9 1029.6 L443.9 1029.6 L440.9 1029.6 L437.9 1029.6 L434.9 1029.6 L431.9 1029.6 L428.9 1029.6 L425.9 1029.6 L422.9 1029.6 L419.9 1029.6 L416.9 1029.6 L413.9 1029.6 L410.9 1029.7 L407.9 1029.7 L404.9 1029.7 L401.9 1029.7 L398.9 1029.7 L395.9 1029.7 L392.9 1029.7 L389.9 1029.7 L386.9 1029.7 L383.9 1029.7 L380.9 1029.7 L377.9 1029.7 L374.9 1029.7 L371.9 1029.7 L368.9 1029.7 L365.9 1029.7 L363.0 1029.7 L360.0 1029.7 L357.0 1029.7 L354.0 1029.7 L351.0 1029.7 L348.0 1029.7 L345.0 1029.7 L342.0 1029.7 L339.0 1029.7 L336.0 1029.8 L333.0 1029.8 L330.0 1029.8 L327.0 1029.8 L324.0 1029.8 L321.0 1029.8 L318.0 1029.8 L315.0 1029.8 L312.0 1029.8 L309.0 1029.8 L306.0 1029.8 L303.0 1029.8 L300.0 1029.8" fill="none" stroke="#ff0080" stroke-width="7.7" stroke-linejoin="round" stroke-linecap="round"/>
<path d="M313.7 1025.3 L598.5 1025.5" stroke="#000" stroke-width="1.2" fill="none"/>
</g>
<ellipse cx="308.8" cy="965.2" rx="3.6" ry="3.1" fill="#000"/>
<text class="tk" transform="translate(270 1046.6) scale(1 1.05)" text-anchor="end">0</text>
<text class="tk" transform="translate(270 808.18) scale(1 1.05)" text-anchor="end">200</text>
<text class="tk" transform="translate(270 569.76) scale(1 1.05)" text-anchor="end">400</text>
<text class="tk" transform="translate(270 331.34) scale(1 1.05)" text-anchor="end">600</text>
<text class="tk" transform="translate(270 92.92) scale(1 1.05)" text-anchor="end">800</text>
<text class="tk" transform="translate(464.15 1158.5) scale(1 1.05)" text-anchor="middle">0.0</text>
<text class="tk" transform="translate(701.57 1158.5) scale(1 1.05)" text-anchor="middle">0.3</text>
<text class="tk" transform="translate(938.99 1158.5) scale(1 1.05)" text-anchor="middle">0.6</text>
<text class="tk" transform="translate(1176.41 1158.5) scale(1 1.05)" text-anchor="middle">0.9</text>
<text class="tk" transform="translate(1413.83 1158.5) scale(1 1.05)" text-anchor="middle">1.2</text>
<path class="ln" stroke-width="1.6" d="M305.8 20.85 H1613.05 M305.8 1027.1 H284.8 M305.8 788.68 H284.8 M305.8 550.26 H284.8 M305.8 311.84 H284.8 M305.8 73.42 H284.8 M305.8 907.89 H295.3 M305.8 669.47 H295.3 M305.8 431.05 H295.3 M305.8 192.63 H295.3"/>
<path class="ln" stroke-width="1.6" d="M305.8 1073.25 H1613.05"/>
<path class="ln" stroke-width="1.8" d="M305.8 20.05 V1074.05 M1613.05 20.05 V1074.05 M464.15 1073.25 V1093.75 M701.57 1073.25 V1093.75 M938.99 1073.25 V1093.75 M1176.41 1073.25 V1093.75 M1413.83 1073.25 V1093.75 M345.44 1073.25 V1082.75 M582.86 1073.25 V1082.75 M820.28 1073.25 V1082.75 M1057.7 1073.25 V1082.75 M1295.12 1073.25 V1082.75 M1532.54 1073.25 V1082.75"/>
<text class="lb" x="654" y="1270.6">E / V <tspan font-style="italic">vs</tspan>. NHE</text>
<text class="lb" transform="translate(102 611.5) rotate(-90) scale(0.985 1)" x="0" y="0">i /µA</text>
<text class="pn" x="354" y="144.5">(a)</text>
</g>
<g id="panel-b">
<clipPath id="clip-panel-b"><rect x="315.05" y="1591.67" width="1343.75" height="1081.4299999999998"/></clipPath>
<g clip-path="url(#clip-panel-b)">
<path d="M1665.0 1809.5 L1662.0 1809.5 L1659.0 1809.6 L1656.0 1809.6 L1653.0 1809.6 L1650.0 1809.7 L1647.0 1809.7 L1644.0 1809.7 L1641.0 1809.8 L1638.0 1809.8 L1635.0 1809.8 L1632.0 1809.8 L1629.0 1809.9 L1626.0 1809.9 L1623.0 1809.9 L1620.0 1810.0 L1617.0 1810.0 L1614.0 1810.0 L1610.9 1810.1 L1607.9 1810.1 L1604.9 1810.1 L1601.9 1810.2 L1598.9 1810.2 L1595.9 1810.2 L1592.9 1810.3 L1589.9 1810.3 L1586.9 1810.3 L1583.9 1810.4 L1580.9 1810.4 L1577.9 1810.4 L1574.9 1810.5 L1571.9 1810.5 L1568.9 1810.5 L1565.9 1810.5 L1562.9 1810.6 L1559.9 1810.6 L1556.9 1810.6 L1553.9 1810.7 L1550.9 1810.7 L1547.9 1810.7 L1544.9 1810.8 L1541.9 1810.8 L1538.9 1810.8 L1535.9 1810.9 L1532.9 1810.9 L1529.9 1810.9 L1526.9 1811.0 L1523.9 1811.0 L1520.9 1811.0 L1517.9 1811.1 L1514.9 1811.1 L1511.9 1811.1 L1508.9 1811.1 L1505.9 1811.2 L1502.8 1811.2 L1499.8 1811.2 L1496.8 1811.3 L1493.8 1811.3 L1490.8 1811.3 L1487.8 1811.4 L1484.8 1811.4 L1481.8 1811.4 L1478.8 1811.5 L1475.8 1811.5 L1472.8 1811.5 L1469.8 1811.6 L1466.8 1811.6 L1463.8 1811.6 L1460.8 1811.7 L1457.8 1811.7 L1454.8 1811.7 L1451.8 1811.8 L1448.8 1811.8 L1445.8 1811.8 L1442.8 1811.8 L1439.8 1811.9 L1436.8 1811.9 L1433.8 1811.9 L1430.8 1812.0 L1427.8 1812.0 L1424.8 1812.0 L1421.8 1812.1 L1418.8 1812.1 L1415.8 1812.1 L1412.8 1812.2 L1409.8 1812.2 L1406.8 1812.2 L1403.8 1812.3 L1400.8 1812.3 L1397.7 1812.3 L1394.7 1812.4 L1391.7 1812.4 L1388.7 1812.4 L1385.7 1812.4 L1382.7 1812.5 L1379.7 1812.5 L1376.7 1812.5 L1373.7 1812.6 L1370.7 1812.6 L1367.7 1812.6 L1364.7 1812.7 L1361.7 1812.7 L1358.7 1812.7 L1355.7 1812.7 L1352.7 1812.8 L1349.7 1812.8 L1346.7 1812.8 L1343.7 1812.9 L1340.7 1812.9 L1337.7 1812.9 L1334.7 1813.0 L1331.7 1813.0 L1328.7 1813.0 L1325.7 1813.0 L1322.7 1813.1 L1319.7 1813.1 L1316.7 1813.1 L1313.7 1813.2 L1310.7 1813.2 L1307.7 1813.2 L1304.7 1813.3 L1301.7 1813.3 L1298.7 1813.3 L1295.7 1813.3 L1292.6 1813.4 L1289.6 1813.4 L1286.6 1813.4 L1283.6 1813.4 L1280.6 1813.5 L1277.6 1813.5 L1274.6 1813.5 L1271.6 1813.5 L1268.6 1813.6 L1265.6 1813.6 L1262.6 1813.6 L1259.6 1813.7 L1256.6 1813.7 L1253.6 1813.7 L1250.6 1813.8 L1247.6 1813.8 L1244.6 1813.9 L1241.6 1813.9 L1238.6 1814.0 L1235.6 1814.0 L1232.6 1814.1 L1229.6 1814.1 L1226.6 1814.2 L1223.6 1814.2 L1220.6 1814.3 L1217.6 1814.4 L1214.6 1814.5 L1211.6 1814.5 L1208.6 1814.6 L1205.6 1814.7 L1202.6 1814.8 L1199.6 1814.9 L1196.6 1815.0 L1193.6 1815.1 L1190.6 1815.1 L1187.6 1815.2 L1184.6 1815.3 L1181.6 1815.4 L1178.6 1815.5 L1175.6 1815.6 L1172.6 1815.7 L1169.6 1815.8 L1166.6 1815.9 L1163.6 1816.0 L1160.6 1816.1 L1157.6 1816.2 L1154.5 1816.3 L1151.5 1816.4 L1148.5 1816.4 L1145.5 1816.5 L1142.5 1816.6 L1139.5 1816.7 L1136.5 1816.8 L1133.5 1816.9 L1130.5 1816.9 L1127.5 1817.0 L1124.5 1817.1 L1121.5 1817.2 L1118.5 1817.3 L1115.5 1817.4 L1112.5 1817.4 L1109.5 1817.5 L1106.5 1817.6 L1103.5 1817.6 L1100.5 1817.7 L1097.5 1817.8 L1094.5 1817.8 L1091.5 1817.9 L1088.5 1818.0 L1085.5 1818.0 L1082.5 1818.0 L1079.5 1818.1 L1076.5 1818.1 L1073.5 1818.2 L1070.5 1818.2 L1067.5 1818.2 L1064.5 1818.3 L1061.5 1818.3 L1058.5 1818.3 L1055.5 1818.3 L1052.5 1818.4 L1049.5 1818.4 L1046.5 1818.4 L1043.5 1818.4 L1040.5 1818.4 L1037.5 1818.4 L1034.5 1818.4 L1031.5 1818.4 L1028.4 1818.4 L1025.4 1818.4 L1022.4 1818.4 L1019.4 1818.4 L1016.4 1818.4 L1013.4 1818.4 L1010.4 1818.4 L1007.4 1818.4 L1004.4 1818.4 L1001.4 1818.4 L998.4 1818.5 L995.4 1818.5 L992.4 1818.6 L989.4 1818.6 L986.4 1818.6 L983.4 1818.7 L980.4 1818.8 L977.4 1818.8 L974.4 1818.9 L971.4 1818.9 L968.4 1819.0 L965.4 1819.1 L962.4 1819.2 L959.4 1819.3 L956.4 1819.3 L953.4 1819.4 L950.4 1819.5 L947.4 1819.6 L944.4 1819.7 L941.4 1819.8 L938.4 1819.9 L935.4 1820.0 L932.4 1820.2 L929.4 1820.3 L926.4 1820.4 L923.4 1820.5 L920.4 1820.7 L917.4 1820.8 L914.4 1820.9 L911.4 1821.1 L908.4 1821.2 L905.4 1821.3 L902.4 1821.5 L899.4 1821.7 L896.4 1821.8 L893.4 1822.0 L890.4 1822.1 L887.4 1822.3 L884.4 1822.5 L881.4 1822.7 L878.4 1822.9 L875.4 1823.1 L872.4 1823.3 L869.4 1823.5 L866.4 1823.7 L863.4 1823.9 L860.4 1824.1 L857.4 1824.2 L854.4 1824.4 L851.4 1824.6 L848.4 1824.8 L845.4 1825.0 L842.4 1825.2 L839.4 1825.4 L836.4 1825.6 L833.4 1825.8 L830.4 1826.0 L827.5 1826.2 L824.5 1826.3 L821.5 1826.5 L818.5 1826.8 L815.5 1827.0 L812.5 1827.2 L809.5 1827.4 L806.5 1827.6 L803.5 1827.8 L800.5 1828.0 L797.5 1828.2 L794.5 1828.4 L791.5 1828.6 L788.5 1828.8 L785.5 1829.0 L782.5 1829.3 L779.5 1829.5 L776.5 1829.8 L773.5 1830.0 L770.5 1830.3 L767.5 1830.6 L764.5 1830.9 L761.6 1831.3 L758.6 1831.6 L755.6 1832.0 L752.6 1832.4 L749.7 1832.8 L746.7 1833.1 L743.7 1833.5 L740.7 1833.9 L737.8 1834.4 L734.8 1835.0 L731.9 1835.6 L729.0 1836.2 L726.0 1836.8 L723.1 1837.5 L720.2 1838.3 L717.3 1839.0 L714.4 1839.8 L711.5 1840.6 L708.6 1841.4 L705.7 1842.2 L702.8 1843.1 L699.9 1843.9 L697.0 1844.8 L694.2 1845.7 L691.4 1846.7 L688.6 1847.8 L685.8 1848.9 L683.0 1850.0 L680.2 1851.2 L677.5 1852.4 L674.8 1853.6 L672.1 1855.0 L669.4 1856.3 L666.7 1857.7 L664.1 1859.2 L661.5 1860.7 L658.9 1862.2 L656.3 1863.7 L653.8 1865.3 L651.2 1867.0 L648.7 1868.6 L646.3 1870.3 L643.8 1872.1 L641.3 1873.8 L638.9 1875.6 L636.6 1877.5 L634.2 1879.3 L631.9 1881.3 L629.6 1883.2 L627.4 1885.2 L625.2 1887.3 L623.0 1889.3 L620.9 1891.5 L618.9 1893.6 L616.9 1895.9 L614.9 1898.1 L613.0 1900.5 L611.2 1902.9 L609.4 1905.3 L607.6 1907.7 L605.9 1910.2 L604.3 1912.7 L602.7 1915.2 L601.1 1917.8 L599.6 1920.4 L598.0 1922.9 L596.5 1925.5 L595.0 1928.1 L593.4 1930.7 L591.9 1933.3 L590.4 1935.9 L588.9 1938.5 L587.4 1941.1 L585.8 1943.7 L584.3 1946.3 L582.7 1948.9 L581.2 1951.5 L579.5 1954.0 L577.9 1956.4 L576.2 1958.9 L574.5 1961.4 L572.8 1963.8 L571.0 1966.3 L569.2 1968.7 L567.4 1971.1 L565.4 1973.3 L563.3 1975.4 L561.1 1977.5 L558.8 1979.4 L556.3 1981.0 L553.6 1982.4 L550.9 1983.5 L548.1 1984.6 L545.2 1985.4 L542.4 1986.3 L539.5 1987.3 L536.7 1988.4 L534.0 1989.8 L531.5 1991.4 L529.1 1993.1 L526.8 1995.0 L524.5 1997.0 L522.3 1999.1 L520.3 2001.3 L518.7 2003.7 L517.3 2006.2 L515.6 2008.6 L513.9 2011.1 L512.3 2013.6 L510.7 2016.0 L509.0 2018.5 L507.3 2020.9 L505.4 2023.3 L503.6 2025.7 L501.6 2028.0 L499.6 2030.2 L497.7 2032.5 L495.7 2034.8 L493.7 2037.1 L491.8 2039.3 L489.8 2041.6 L487.9 2043.9 L485.9 2046.2 L484.0 2048.5 L482.1 2050.8 L480.2 2053.1 L478.3 2055.5 L476.5 2057.8 L474.6 2060.2 L472.8 2062.6 L471.0 2065.0 L471.0 2065.0 L471.5 2062.0 L472.1 2059.1 L472.7 2056.1 L473.4 2053.2 L474.2 2050.4 L475.2 2047.5 L476.0 2044.7 L477.0 2041.9 L478.1 2039.1 L479.3 2036.3 L480.5 2033.5 L481.8 2030.8 L483.1 2028.1 L484.4 2025.4 L485.7 2022.7 L487.1 2020.1 L488.4 2017.4 L489.7 2014.7 L491.1 2012.0 L492.4 2009.3 L493.7 2006.6 L495.0 2003.9 L496.3 2001.2 L497.6 1998.5 L498.9 1995.8 L500.2 1993.1 L501.5 1990.4 L502.9 1987.7 L504.3 1985.1 L505.8 1982.5 L507.3 1979.9 L508.7 1977.2 L510.2 1974.6 L511.7 1972.0 L513.3 1969.5 L515.0 1967.0 L516.7 1964.6 L518.5 1962.2 L520.4 1959.8 L522.3 1957.6 L524.4 1955.4 L526.5 1953.3 L528.7 1951.3 L531.0 1949.3 L533.3 1947.4 L535.7 1945.6 L538.1 1943.8 L540.5 1942.0 L542.9 1940.2 L545.4 1938.6 L548.0 1936.9 L550.4 1935.2 L552.9 1933.5 L555.4 1931.9 L557.8 1930.1 L560.3 1928.4 L562.7 1926.6 L565.1 1924.8 L567.4 1922.9 L569.6 1921.0 L572.0 1919.1 L574.3 1917.2 L576.6 1915.3 L578.9 1913.4 L581.2 1911.5 L583.5 1909.5 L585.8 1907.6 L588.1 1905.6 L590.3 1903.7 L592.6 1901.7 L594.9 1899.7 L597.1 1897.7 L599.4 1895.8 L601.6 1893.8 L603.9 1891.8 L606.2 1889.9 L608.5 1887.9 L610.7 1886.0 L613.0 1884.0 L615.3 1882.1 L617.5 1880.1 L619.8 1878.1 L622.0 1876.1 L624.3 1874.2 L626.5 1872.2 L628.8 1870.2 L631.1 1868.2 L633.3 1866.3 L635.6 1864.3 L637.9 1862.4 L640.2 1860.5 L642.6 1858.6 L644.9 1856.7 L647.2 1854.8 L649.6 1852.9 L651.9 1851.1 L654.3 1849.2 L656.6 1847.3 L658.9 1845.4 L661.3 1843.6 L663.6 1841.7 L666.0 1839.8 L668.3 1837.9 L670.6 1836.0 L672.9 1834.1 L675.2 1832.2 L677.4 1830.2 L679.7 1828.3 L682.0 1826.3 L684.2 1824.3 L686.4 1822.3 L688.7 1820.3 L690.9 1818.3 L693.1 1816.3 L695.3 1814.2 L697.4 1812.2 L699.6 1810.1 L701.8 1808.1 L704.0 1806.0 L706.2 1804.0 L708.4 1802.0 L710.7 1799.9 L712.9 1797.9 L715.1 1796.0 L717.4 1794.0 L719.7 1792.0 L721.9 1790.1 L724.2 1788.1 L726.5 1786.2 L728.8 1784.2 L731.0 1782.3 L733.3 1780.3 L735.6 1778.4 L737.9 1776.4 L740.1 1774.4 L742.4 1772.4 L744.5 1770.4 L746.8 1768.4 L749.0 1766.4 L749.0 1766.4 L750.3 1758.5 L753.0 1755.3 L753.0 1755.3 L755.2 1753.2 L757.2 1751.0 L758.8 1748.6 L760.1 1745.9 L761.4 1743.1 L762.8 1740.5 L764.1 1737.8 L765.4 1735.1 L766.8 1732.4 L768.1 1729.7 L769.4 1727.0 L770.8 1724.3 L772.1 1721.6 L773.5 1718.9 L775.0 1716.4 L776.6 1713.8 L778.3 1711.4 L780.1 1709.0 L782.0 1706.6 L783.9 1704.3 L785.8 1702.0 L787.8 1699.7 L789.6 1697.3 L791.3 1694.8 L792.8 1692.3 L794.2 1689.6 L795.4 1686.8 L796.8 1684.2 L798.1 1681.5 L799.5 1678.8 L800.8 1676.1 L802.2 1673.4 L803.3 1670.5 L804.7 1667.7 L806.7 1665.6 L809.3 1664.9 L811.9 1665.7 L813.9 1667.6 L815.3 1670.6 L816.2 1673.6 L816.8 1676.5 L817.1 1679.6 L817.5 1682.5 L817.9 1685.5 L818.3 1688.5 L818.6 1691.5 L819.1 1694.4 L819.5 1697.4 L819.9 1700.4 L820.3 1703.4 L820.8 1706.3 L821.2 1709.3 L821.7 1712.3 L822.1 1715.3 L822.6 1718.2 L823.0 1721.2 L823.5 1724.2 L824.2 1727.1 L824.9 1730.0 L825.5 1732.9 L826.2 1735.9 L827.0 1738.8 L827.7 1741.7 L828.7 1744.5 L829.7 1747.3 L830.6 1750.2 L831.6 1753.0 L832.6 1755.9 L833.8 1758.6 L835.0 1761.4 L836.4 1764.0 L837.7 1766.8 L839.2 1769.3 L840.8 1771.9 L842.6 1774.3 L844.5 1776.6 L846.5 1778.8 L848.6 1780.9 L850.9 1783.0 L853.2 1784.9 L855.6 1786.6 L858.2 1788.1 L860.9 1789.4 L863.7 1790.5 L866.5 1791.4 L869.5 1792.2 L872.4 1792.9 L875.4 1793.4 L878.3 1793.8 L881.3 1794.2 L884.3 1794.5 L887.3 1794.7 L890.3 1794.8 L893.3 1794.8 L896.3 1794.8 L899.3 1794.7 L902.3 1794.6 L905.2 1794.5 L908.2 1794.4 L911.1 1794.0 L914.2 1793.7 L917.2 1793.2 L920.1 1792.8 L923.1 1792.3 L926.1 1791.8 L929.1 1791.3 L932.0 1790.7 L935.0 1790.1 L938.0 1789.6 L940.9 1789.0 L943.9 1788.4 L946.8 1787.8 L949.8 1787.2 L952.7 1786.6 L955.6 1786.0 L958.6 1785.4 L961.5 1784.8 L964.5 1784.1 L967.4 1783.5 L970.3 1782.8 L973.3 1782.2 L976.2 1781.5 L979.1 1780.9 L982.1 1780.3 L985.0 1779.7 L988.0 1779.1 L990.9 1778.5 L993.9 1777.9 L996.8 1777.4 L999.8 1776.8 L1002.7 1776.3 L1005.7 1775.8 L1008.6 1775.3 L1011.6 1774.8 L1014.6 1774.3 L1017.5 1773.8 L1020.5 1773.4 L1023.5 1773.0 L1026.4 1772.5 L1029.4 1772.1 L1032.4 1771.7 L1035.4 1771.3 L1038.4 1771.0 L1041.3 1770.6 L1044.3 1770.2 L1047.3 1769.8 L1050.3 1769.4 L1053.3 1769.0 L1056.2 1768.6 L1059.2 1768.3 L1062.2 1767.9 L1065.2 1767.5 L1068.2 1767.2 L1071.2 1766.8 L1074.1 1766.5 L1077.1 1766.2 L1080.1 1765.9 L1083.1 1765.7 L1086.1 1765.4 L1089.1 1765.2 L1092.1 1764.9 L1095.1 1764.7 L1098.1 1764.5 L1101.1 1764.3 L1104.1 1764.2 L1107.1 1764.0 L1110.1 1763.9 L1113.1 1763.8 L1116.1 1763.7 L1119.1 1763.6 L1122.1 1763.5 L1125.1 1763.4 L1128.1 1763.3 L1131.1 1763.3 L1134.1 1763.2 L1137.1 1763.1 L1140.1 1763.1 L1143.1 1763.0 L1146.1 1762.9 L1149.1 1762.9 L1152.1 1762.8 L1155.1 1762.7 L1158.1 1762.6 L1161.1 1762.6 L1164.1 1762.5 L1167.1 1762.5 L1170.1 1762.4 L1173.1 1762.4 L1176.1 1762.3 L1179.1 1762.3 L1182.1 1762.4 L1185.1 1762.4 L1188.1 1762.5 L1191.1 1762.5 L1194.1 1762.6 L1197.1 1762.8 L1200.1 1762.9 L1203.1 1763.1 L1206.1 1763.3 L1209.1 1763.5 L1212.1 1763.7 L1215.1 1763.9 L1218.1 1764.2 L1221.1 1764.4 L1224.1 1764.7 L1227.1 1765.0 L1230.1 1765.3 L1233.1 1765.6 L1236.1 1765.9 L1239.1 1766.1 L1242.0 1766.4 L1245.0 1766.6 L1248.0 1766.8 L1251.0 1767.0 L1254.0 1767.2 L1257.0 1767.4 L1260.0 1767.6 L1263.0 1767.8 L1266.0 1768.0 L1269.0 1768.1 L1272.0 1768.3 L1275.0 1768.4 L1278.0 1768.6 L1281.0 1768.7 L1284.0 1768.9 L1287.0 1769.0 L1290.0 1769.1 L1293.0 1769.2 L1296.0 1769.4 L1299.0 1769.5 L1302.0 1769.6 L1305.0 1769.7 L1308.0 1769.8 L1311.0 1769.9 L1314.0 1770.0 L1317.0 1770.1 L1320.0 1770.2 L1323.0 1770.3 L1326.0 1770.4 L1329.0 1770.5 L1332.1 1770.6 L1335.1 1770.7 L1338.1 1770.8 L1341.1 1770.9 L1344.1 1771.0 L1347.1 1771.1 L1350.1 1771.2 L1353.1 1771.3 L1356.1 1771.5 L1359.1 1771.6 L1362.1 1771.8 L1365.1 1772.0 L1368.1 1772.1 L1371.1 1772.3 L1374.1 1772.5 L1377.0 1772.7 L1380.0 1773.0 L1383.0 1773.2 L1386.0 1773.4 L1389.0 1773.6 L1392.0 1773.8 L1395.0 1774.0 L1398.0 1774.3 L1401.0 1774.5 L1404.0 1774.7 L1407.0 1774.9 L1410.0 1775.1 L1413.0 1775.3 L1416.0 1775.5 L1419.0 1775.7 L1422.0 1775.9 L1425.0 1776.1 L1428.0 1776.3 L1431.0 1776.5 L1434.0 1776.7 L1437.0 1776.8 L1440.0 1777.0 L1443.0 1777.2 L1446.0 1777.4 L1449.0 1777.6 L1452.0 1777.8 L1455.0 1777.9 L1458.0 1778.1 L1461.0 1778.3 L1464.0 1778.5 L1467.0 1778.6 L1470.0 1778.8 L1473.0 1779.0 L1476.0 1779.1 L1479.0 1779.3 L1482.0 1779.5 L1485.0 1779.6 L1488.0 1779.8 L1491.0 1780.0 L1494.0 1780.2 L1497.0 1780.3 L1500.0 1780.5 L1503.0 1780.7 L1506.0 1780.9 L1509.0 1781.0 L1512.0 1781.2 L1515.0 1781.4 L1518.0 1781.5 L1521.0 1781.7 L1524.0 1781.9 L1527.0 1782.0 L1530.0 1782.2 L1533.0 1782.4 L1536.0 1782.5 L1539.0 1782.7 L1542.0 1782.8 L1545.0 1783.0 L1548.0 1783.2 L1551.0 1783.3 L1554.0 1783.5 L1557.0 1783.6 L1560.0 1783.8 L1563.0 1783.9 L1566.0 1784.1 L1569.0 1784.3 L1572.0 1784.4 L1575.0 1784.6 L1578.0 1784.7 L1581.0 1784.8 L1584.0 1785.0 L1587.0 1785.1 L1590.0 1785.3 L1593.0 1785.4 L1596.0 1785.5 L1599.0 1785.7 L1602.0 1785.8 L1605.0 1785.9 L1608.0 1786.0 L1611.0 1786.1 L1614.0 1786.2 L1617.0 1786.4 L1620.0 1786.5 L1623.0 1786.6 L1626.0 1786.7 L1629.0 1786.8 L1632.0 1786.9 L1635.0 1787.0 L1638.0 1787.1 L1641.0 1787.2 L1644.0 1787.3 L1647.0 1787.4 L1650.0 1787.5 L1653.0 1787.6 L1656.0 1787.7 L1659.0 1787.8 L1662.0 1787.9 L1665.0 1788.0" fill="none" stroke="#00ff00" stroke-width="7.8" stroke-linejoin="round" stroke-linecap="round"/>
<path d="M1665.0 1808.5 L1662.0 1808.5 L1659.0 1808.6 L1656.0 1808.6 L1653.0 1808.6 L1650.0 1808.6 L1647.0 1808.7 L1644.0 1808.7 L1641.0 1808.7 L1638.0 1808.8 L1635.0 1808.8 L1632.0 1808.8 L1629.0 1808.9 L1626.0 1808.9 L1623.0 1808.9 L1620.0 1808.9 L1617.0 1809.0 L1614.0 1809.0 L1611.0 1809.0 L1608.0 1809.1 L1605.0 1809.1 L1602.0 1809.1 L1599.0 1809.2 L1596.0 1809.2 L1593.0 1809.2 L1590.0 1809.2 L1587.0 1809.3 L1584.0 1809.3 L1581.0 1809.3 L1578.0 1809.4 L1575.0 1809.4 L1572.1 1809.4 L1569.1 1809.5 L1566.1 1809.5 L1563.1 1809.5 L1560.1 1809.6 L1557.1 1809.6 L1554.1 1809.6 L1551.1 1809.7 L1548.1 1809.7 L1545.1 1809.7 L1542.1 1809.8 L1539.1 1809.8 L1536.1 1809.8 L1533.1 1809.9 L1530.1 1809.9 L1527.1 1810.0 L1524.1 1810.0 L1521.1 1810.0 L1518.1 1810.1 L1515.1 1810.1 L1512.1 1810.1 L1509.1 1810.2 L1506.1 1810.2 L1503.1 1810.2 L1500.1 1810.3 L1497.1 1810.3 L1494.1 1810.4 L1491.1 1810.4 L1488.1 1810.4 L1485.1 1810.5 L1482.1 1810.5 L1479.1 1810.5 L1476.1 1810.6 L1473.1 1810.6 L1470.1 1810.7 L1467.1 1810.7 L1464.1 1810.7 L1461.1 1810.8 L1458.1 1810.8 L1455.1 1810.8 L1452.1 1810.9 L1449.1 1810.9 L1446.1 1810.9 L1443.1 1811.0 L1440.1 1811.0 L1437.1 1811.1 L1434.1 1811.1 L1431.1 1811.1 L1428.1 1811.2 L1425.1 1811.2 L1422.1 1811.2 L1419.1 1811.3 L1416.1 1811.3 L1413.1 1811.3 L1410.1 1811.4 L1407.1 1811.4 L1404.1 1811.4 L1401.1 1811.5 L1398.2 1811.5 L1395.2 1811.5 L1392.2 1811.6 L1389.2 1811.6 L1386.2 1811.6 L1383.2 1811.7 L1380.2 1811.7 L1377.2 1811.7 L1374.2 1811.8 L1371.2 1811.8 L1368.2 1811.8 L1365.2 1811.9 L1362.2 1811.9 L1359.2 1811.9 L1356.2 1811.9 L1353.2 1812.0 L1350.2 1812.0 L1347.2 1812.0 L1344.2 1812.1 L1341.2 1812.1 L1338.2 1812.1 L1335.2 1812.1 L1332.2 1812.2 L1329.2 1812.2 L1326.2 1812.2 L1323.2 1812.3 L1320.2 1812.3 L1317.2 1812.3 L1314.2 1812.4 L1311.2 1812.4 L1308.2 1812.4 L1305.2 1812.4 L1302.2 1812.5 L1299.2 1812.5 L1296.2 1812.5 L1293.2 1812.6 L1290.2 1812.6 L1287.2 1812.6 L1284.2 1812.7 L1281.2 1812.7 L1278.2 1812.7 L1275.2 1812.7 L1272.2 1812.8 L1269.2 1812.8 L1266.2 1812.8 L1263.2 1812.8 L1260.2 1812.9 L1257.2 1812.9 L1254.2 1812.9 L1251.2 1813.0 L1248.2 1813.0 L1245.2 1813.0 L1242.2 1813.1 L1239.2 1813.1 L1236.2 1813.2 L1233.2 1813.2 L1230.2 1813.2 L1227.2 1813.3 L1224.2 1813.3 L1221.2 1813.4 L1218.3 1813.4 L1215.3 1813.5 L1212.3 1813.6 L1209.3 1813.6 L1206.3 1813.7 L1203.3 1813.8 L1200.3 1813.8 L1197.3 1813.9 L1194.3 1814.0 L1191.3 1814.1 L1188.3 1814.2 L1185.3 1814.2 L1182.3 1814.3 L1179.3 1814.4 L1176.3 1814.5 L1173.3 1814.6 L1170.3 1814.7 L1167.3 1814.8 L1164.3 1814.9 L1161.3 1815.0 L1158.3 1815.1 L1155.3 1815.2 L1152.3 1815.3 L1149.3 1815.4 L1146.3 1815.5 L1143.3 1815.6 L1140.3 1815.7 L1137.3 1815.8 L1134.3 1815.8 L1131.3 1815.9 L1128.3 1816.0 L1125.3 1816.1 L1122.3 1816.2 L1119.3 1816.3 L1116.3 1816.4 L1113.3 1816.4 L1110.3 1816.5 L1107.4 1816.6 L1104.4 1816.7 L1101.4 1816.7 L1098.4 1816.8 L1095.4 1816.8 L1092.4 1816.9 L1089.4 1816.9 L1086.4 1817.0 L1083.4 1817.0 L1080.4 1817.1 L1077.4 1817.1 L1074.4 1817.1 L1071.4 1817.1 L1068.4 1817.1 L1065.4 1817.2 L1062.4 1817.2 L1059.4 1817.2 L1056.4 1817.2 L1053.4 1817.1 L1050.4 1817.1 L1047.4 1817.1 L1044.4 1817.1 L1041.4 1817.1 L1038.4 1817.0 L1035.4 1817.0 L1032.4 1817.0 L1029.4 1816.9 L1026.4 1816.9 L1023.4 1816.9 L1020.4 1816.8 L1017.4 1816.8 L1014.4 1816.7 L1011.4 1816.7 L1008.4 1816.7 L1005.4 1816.6 L1002.4 1816.6 L999.4 1816.6 L996.4 1816.5 L993.4 1816.5 L990.4 1816.4 L987.4 1816.4 L984.4 1816.4 L981.4 1816.3 L978.4 1816.3 L975.4 1816.2 L972.4 1816.2 L969.4 1816.2 L966.4 1816.2 L963.4 1816.2 L960.4 1816.1 L957.4 1816.1 L954.4 1816.1 L951.4 1816.1 L948.4 1816.2 L945.4 1816.2 L942.4 1816.2 L939.5 1816.2 L936.5 1816.3 L933.5 1816.3 L930.5 1816.4 L927.5 1816.5 L924.5 1816.6 L921.5 1816.7 L918.5 1816.8 L915.5 1816.9 L912.5 1817.0 L909.5 1817.1 L906.5 1817.3 L903.5 1817.4 L900.5 1817.5 L897.5 1817.7 L894.5 1817.8 L891.5 1818.0 L888.5 1818.1 L885.5 1818.3 L882.5 1818.5 L879.5 1818.6 L876.5 1818.8 L873.5 1819.0 L870.6 1819.1 L867.6 1819.3 L864.6 1819.5 L861.6 1819.7 L858.6 1819.9 L855.6 1820.1 L852.6 1820.3 L849.6 1820.5 L846.6 1820.7 L843.6 1820.9 L840.6 1821.2 L837.6 1821.4 L834.6 1821.6 L831.7 1821.9 L828.7 1822.1 L825.7 1822.4 L822.7 1822.7 L819.7 1823.0 L816.7 1823.3 L813.7 1823.6 L810.8 1823.9 L807.8 1824.3 L804.8 1824.7 L801.8 1825.1 L798.9 1825.5 L795.9 1825.9 L792.9 1826.4 L790.0 1826.8 L787.0 1827.2 L784.0 1827.7 L781.1 1828.2 L778.1 1828.7 L775.2 1829.2 L772.3 1829.8 L769.3 1830.4 L766.4 1831.1 L763.5 1831.7 L760.5 1832.4 L757.6 1833.1 L754.7 1833.8 L751.8 1834.5 L748.9 1835.3 L746.0 1836.0 L743.1 1836.9 L740.2 1837.7 L737.3 1838.6 L734.4 1839.5 L731.6 1840.6 L728.9 1841.7 L726.1 1842.9 L723.4 1844.2 L720.7 1845.5 L718.1 1847.0 L715.6 1848.5 L713.1 1850.2 L710.7 1851.9 L708.3 1853.7 L706.0 1855.6 L703.7 1857.6 L701.5 1859.6 L699.4 1861.7 L697.3 1863.9 L695.2 1866.1 L693.2 1868.3 L691.3 1870.6 L689.4 1872.9 L687.5 1875.3 L685.7 1877.6 L683.8 1880.0 L682.0 1882.4 L680.2 1884.8 L678.4 1887.2 L676.6 1889.6 L674.9 1892.0 L673.1 1894.5 L671.4 1896.9 L669.7 1899.4 L668.0 1901.9 L666.3 1904.3 L664.6 1906.8 L663.0 1909.3 L661.3 1911.9 L659.7 1914.4 L658.1 1916.9 L656.5 1919.4 L654.9 1922.0 L653.3 1924.5 L651.8 1927.1 L650.2 1929.7 L648.7 1932.2 L647.1 1934.8 L645.6 1937.4 L644.1 1940.0 L642.6 1942.6 L641.1 1945.2 L639.6 1947.8 L638.2 1950.4 L636.7 1953.0 L635.3 1955.7 L633.9 1958.3 L632.6 1961.0 L631.2 1963.7 L629.8 1966.4 L628.5 1969.1 L627.3 1971.8 L626.2 1974.6 L625.2 1977.4 L624.1 1980.2 L623.0 1983.0 L621.9 1985.7 L620.7 1988.5 L619.6 1991.3 L618.5 1994.0 L617.4 1996.8 L616.3 1999.6 L615.2 2002.4 L614.1 2005.2 L613.1 2008.0 L612.1 2010.8 L611.0 2013.7 L610.0 2016.5 L609.1 2019.3 L608.1 2022.1 L607.1 2025.0 L606.2 2027.8 L605.2 2030.7 L604.3 2033.5 L603.3 2036.4 L602.4 2039.2 L601.5 2042.1 L600.6 2044.9 L599.7 2047.8 L598.8 2050.7 L597.9 2053.5 L597.0 2056.4 L596.2 2059.3 L595.3 2062.1 L594.4 2065.0 L593.5 2067.9 L592.7 2070.7 L591.8 2073.6 L590.9 2076.5 L590.0 2079.3 L589.2 2082.2 L588.3 2085.1 L587.4 2088.0 L586.6 2090.8 L585.7 2093.7 L584.8 2096.6 L583.9 2099.4 L583.0 2102.3 L582.2 2105.2 L581.3 2108.0 L580.4 2110.9 L579.5 2113.8 L578.6 2116.6 L577.7 2119.5 L576.7 2122.4 L575.8 2125.2 L574.9 2128.1 L574.0 2130.9 L573.0 2133.8 L572.1 2136.6 L571.1 2139.5 L570.2 2142.3 L569.2 2145.2 L568.2 2148.0 L567.1 2150.8 L566.1 2153.6 L565.0 2156.4 L564.0 2159.2 L562.9 2162.0 L561.8 2164.8 L560.7 2167.5 L559.6 2170.3 L558.4 2173.1 L557.3 2175.8 L556.2 2178.6 L555.0 2181.4 L553.8 2184.1 L552.6 2186.9 L551.4 2189.6 L550.2 2192.4 L548.9 2195.1 L547.5 2197.7 L546.2 2200.4 L544.7 2203.0 L543.2 2205.7 L541.8 2208.3 L540.2 2210.8 L538.6 2213.3 L537.1 2215.9 L535.4 2218.4 L533.7 2220.9 L532.0 2223.4 L530.3 2225.8 L528.6 2228.3 L526.9 2230.8 L525.1 2233.2 L523.4 2235.6 L521.7 2238.1 L519.9 2240.6 L518.2 2243.0 L516.5 2245.4 L514.7 2247.9 L513.0 2250.3 L511.2 2252.7 L509.4 2255.1 L507.6 2257.6 L505.9 2260.0 L504.1 2262.4 L502.3 2264.8 L500.7 2267.3 L499.0 2269.8 L497.3 2272.3 L495.7 2274.8 L494.1 2277.3 L492.5 2279.9 L491.0 2282.5 L489.5 2285.1 L488.0 2287.7 L486.6 2290.3 L485.1 2292.9 L483.7 2295.6 L482.3 2298.2 L480.9 2300.9 L479.5 2303.5 L478.1 2306.2 L476.7 2308.8 L475.4 2311.5 L474.1 2314.2 L472.9 2316.9 L471.7 2319.7 L470.5 2322.4 L469.1 2325.1 L467.7 2327.7 L466.3 2330.4 L464.9 2333.0 L463.6 2335.7 L462.3 2338.4 L461.0 2341.1 L459.7 2343.8 L458.4 2346.5 L457.1 2349.2 L455.9 2351.9 L454.6 2354.6 L453.4 2357.4 L452.2 2360.1 L451.0 2362.9 L449.8 2365.6 L448.7 2368.4 L447.5 2371.1 L446.4 2373.9 L445.2 2376.7 L444.1 2379.5 L443.0 2382.3 L441.9 2385.1 L440.9 2387.9 L439.8 2390.7 L438.7 2393.5 L437.7 2396.3 L436.6 2399.1 L435.6 2401.9 L434.5 2404.7 L433.5 2407.6 L432.5 2410.4 L431.5 2413.2 L430.5 2416.0 L429.5 2418.9 L428.5 2421.7 L427.5 2424.5 L426.5 2427.4 L425.6 2430.2 L424.6 2433.1 L423.6 2435.9 L422.7 2438.7 L421.7 2441.6 L420.8 2444.4 L419.8 2447.3 L418.9 2450.1 L418.0 2453.0 L417.0 2455.8 L416.1 2458.7 L415.2 2461.5 L414.3 2464.4 L413.3 2467.3 L412.4 2470.1 L411.5 2473.0 L410.6 2475.8 L409.7 2478.7 L408.8 2481.6 L407.9 2484.4 L407.0 2487.3 L406.1 2490.2 L405.3 2493.0 L404.4 2495.9 L403.5 2498.8 L402.6 2501.6 L401.7 2504.5 L400.8 2507.4 L399.9 2510.2 L399.0 2513.1 L398.1 2516.0 L397.2 2518.8 L396.4 2521.7 L395.5 2524.5 L394.6 2527.4 L393.7 2530.3 L392.8 2533.1 L391.9 2536.0 L391.0 2538.9 L390.1 2541.7 L389.2 2544.6 L388.3 2547.4 L387.4 2550.3 L386.5 2553.2 L385.6 2556.0 L384.7 2558.9 L383.8 2561.7 L382.9 2564.6 L382.0 2567.5 L381.1 2570.3 L380.2 2573.2 L379.3 2576.0 L378.4 2578.9 L377.5 2581.7 L376.5 2584.6 L375.6 2587.5 L374.7 2590.3 L373.8 2593.2 L372.9 2596.0 L372.0 2598.9 L371.1 2601.7 L370.1 2604.6 L369.2 2607.4 L368.2 2610.3 L367.3 2613.1 L366.3 2616.0 L365.4 2618.8 L364.5 2621.7 L363.5 2624.5 L362.6 2627.3 L361.6 2630.2 L360.7 2633.0 L359.7 2635.9 L358.8 2638.7 L357.8 2641.6 L356.9 2644.4 L355.9 2647.2 L354.9 2650.1 L354.0 2652.9 L353.0 2655.7 L352.0 2658.6 L351.0 2661.4 L351.0 2661.4 L351.6 2658.5 L352.2 2655.5 L352.8 2652.6 L353.4 2649.6 L354.0 2646.7 L354.6 2643.8 L355.2 2640.8 L355.8 2637.9 L356.4 2635.0 L357.0 2632.0 L357.6 2629.1 L358.2 2626.1 L358.8 2623.2 L359.5 2620.3 L360.0 2617.3 L360.7 2614.4 L361.3 2611.5 L361.9 2608.5 L362.5 2605.6 L363.1 2602.7 L363.7 2599.7 L364.4 2596.8 L365.0 2593.8 L365.6 2590.9 L366.2 2588.0 L366.8 2585.0 L367.4 2582.1 L368.0 2579.2 L368.6 2576.2 L369.2 2573.3 L369.8 2570.4 L370.4 2567.4 L371.0 2564.5 L371.7 2561.5 L372.3 2558.6 L372.9 2555.7 L373.5 2552.7 L374.1 2549.8 L374.7 2546.8 L375.3 2543.9 L375.9 2541.0 L376.5 2538.0 L377.1 2535.1 L377.7 2532.2 L378.3 2529.2 L378.9 2526.3 L379.4 2523.3 L380.0 2520.4 L380.6 2517.5 L381.2 2514.5 L381.8 2511.6 L382.4 2508.6 L383.0 2505.7 L383.6 2502.8 L384.2 2499.8 L384.8 2496.9 L385.4 2493.9 L386.0 2491.0 L386.6 2488.1 L387.2 2485.1 L387.8 2482.2 L388.4 2479.2 L389.0 2476.3 L389.6 2473.4 L390.2 2470.4 L390.8 2467.5 L391.5 2464.6 L392.1 2461.6 L392.7 2458.7 L393.4 2455.8 L394.0 2452.8 L394.7 2449.9 L395.3 2447.0 L396.0 2444.1 L396.7 2441.1 L397.3 2438.2 L398.0 2435.3 L398.7 2432.4 L399.4 2429.5 L400.1 2426.5 L400.8 2423.6 L401.5 2420.7 L402.2 2417.8 L402.9 2414.9 L403.6 2412.0 L404.4 2409.1 L405.1 2406.2 L405.8 2403.3 L406.6 2400.3 L407.3 2397.4 L408.0 2394.5 L408.8 2391.6 L409.5 2388.7 L410.3 2385.8 L411.0 2382.9 L411.7 2380.0 L412.5 2377.1 L413.2 2374.2 L414.0 2371.3 L414.7 2368.4 L415.5 2365.5 L416.2 2362.6 L417.0 2359.7 L417.7 2356.8 L418.4 2353.9 L419.2 2351.0 L419.9 2348.0 L420.6 2345.1 L421.4 2342.2 L422.1 2339.3 L422.8 2336.4 L423.6 2333.5 L424.3 2330.6 L425.0 2327.7 L425.7 2324.8 L426.5 2321.9 L427.2 2318.9 L427.9 2316.0 L428.6 2313.1 L429.3 2310.2 L430.0 2307.3 L430.8 2304.4 L431.5 2301.5 L432.2 2298.6 L432.9 2295.6 L433.6 2292.7 L434.3 2289.8 L435.0 2286.9 L435.7 2284.0 L436.5 2281.1 L437.2 2278.1 L437.9 2275.2 L438.6 2272.3 L439.3 2269.4 L440.1 2266.5 L440.8 2263.6 L441.6 2260.7 L442.3 2257.8 L443.1 2254.9 L443.8 2252.0 L444.6 2249.1 L445.4 2246.2 L446.2 2243.3 L447.0 2240.4 L447.9 2237.5 L448.7 2234.7 L449.6 2231.8 L450.5 2228.9 L451.4 2226.1 L452.3 2223.2 L453.2 2220.4 L454.1 2217.5 L455.1 2214.7 L456.0 2211.8 L457.0 2209.0 L458.0 2206.2 L459.0 2203.3 L460.1 2200.5 L461.1 2197.7 L462.1 2194.9 L463.2 2192.1 L464.3 2189.3 L465.4 2186.5 L466.5 2183.7 L467.7 2180.9 L468.8 2178.2 L470.0 2175.4 L471.2 2172.7 L472.4 2169.9 L473.6 2167.2 L474.9 2164.5 L476.2 2161.8 L477.4 2159.1 L478.8 2156.4 L480.1 2153.7 L481.4 2151.0 L482.8 2148.4 L484.2 2145.7 L485.6 2143.1 L487.0 2140.4 L488.5 2137.8 L489.9 2135.2 L491.4 2132.6 L492.9 2130.0 L494.5 2127.4 L496.0 2124.9 L497.6 2122.3 L499.2 2119.8 L500.8 2117.2 L502.4 2114.7 L504.0 2112.2 L505.6 2109.7 L507.3 2107.2 L509.0 2104.7 L510.6 2102.2 L512.3 2099.7 L514.0 2097.3 L515.8 2094.8 L517.5 2092.4 L519.2 2090.0 L521.0 2087.5 L522.8 2085.1 L524.5 2082.7 L526.3 2080.3 L528.1 2077.9 L529.9 2075.5 L531.8 2073.1 L533.6 2070.8 L535.4 2068.4 L537.3 2066.0 L539.1 2063.7 L541.0 2061.3 L542.8 2058.9 L544.7 2056.6 L546.5 2054.2 L548.4 2051.9 L550.3 2049.5 L552.1 2047.2 L554.0 2044.9 L555.9 2042.5 L557.8 2040.2 L559.6 2037.9 L561.5 2035.5 L563.4 2033.2 L565.3 2030.8 L567.2 2028.5 L569.1 2026.2 L571.0 2023.9 L572.9 2021.6 L574.8 2019.3 L576.7 2016.9 L578.6 2014.6 L580.5 2012.3 L582.4 2010.0 L584.2 2007.6 L586.1 2005.3 L588.0 2002.9 L589.8 2000.6 L591.7 1998.2 L593.5 1995.8 L595.4 1993.5 L597.2 1991.1 L599.0 1988.8 L600.9 1986.4 L602.7 1984.0 L604.6 1981.7 L606.4 1979.3 L608.2 1976.9 L610.1 1974.6 L611.9 1972.2 L613.8 1969.8 L615.6 1967.5 L617.4 1965.1 L619.3 1962.7 L621.1 1960.3 L622.9 1958.0 L624.8 1955.6 L626.6 1953.2 L628.5 1950.9 L630.3 1948.5 L632.1 1946.1 L634.0 1943.8 L635.8 1941.4 L637.6 1939.0 L639.5 1936.6 L641.3 1934.2 L643.1 1931.9 L644.9 1929.5 L646.7 1927.1 L648.5 1924.7 L650.3 1922.3 L652.1 1919.9 L653.9 1917.4 L655.7 1915.0 L657.4 1912.6 L659.2 1910.2 L661.0 1907.8 L662.7 1905.3 L664.5 1902.9 L666.3 1900.5 L668.1 1898.1 L669.9 1895.7 L671.7 1893.3 L673.5 1890.9 L675.3 1888.5 L677.1 1886.2 L679.0 1883.8 L680.8 1881.5 L682.7 1879.1 L684.6 1876.8 L686.5 1874.5 L688.4 1872.1 L690.3 1869.8 L692.2 1867.5 L694.1 1865.2 L696.0 1862.9 L697.9 1860.6 L699.8 1858.3 L701.7 1856.0 L703.7 1853.7 L705.6 1851.4 L707.6 1849.1 L709.5 1846.9 L711.5 1844.6 L713.5 1842.3 L715.4 1840.1 L717.4 1837.8 L719.4 1835.6 L721.4 1833.3 L723.3 1831.1 L725.3 1828.8 L727.3 1826.6 L729.3 1824.3 L731.3 1822.0 L733.2 1819.8 L735.2 1817.6 L737.2 1815.3 L739.2 1813.0 L741.1 1810.8 L743.1 1808.5 L745.1 1806.3 L747.0 1804.0 L749.0 1801.7 L751.0 1799.5 L751.0 1799.5 L755.5 1796.5 L758.0 1801.5 L759.5 1793.0 L763.0 1786.0 L766.5 1781.0 L769.5 1782.5 L771.0 1778.0 L774.2 1776.0 L774.2 1776.0 L776.5 1774.0 L778.5 1771.8 L780.4 1769.5 L781.9 1767.0 L783.2 1764.3 L784.4 1761.5 L785.7 1758.8 L787.1 1756.1 L788.5 1753.5 L790.1 1751.0 L791.8 1748.5 L793.6 1746.1 L795.8 1743.8 L798.4 1742.2 L801.2 1741.2 L804.2 1741.3 L806.9 1742.0 L809.2 1743.8 L811.4 1746.0 L813.0 1748.5 L814.6 1751.1 L816.1 1753.6 L817.7 1756.2 L819.2 1758.8 L820.9 1761.3 L822.7 1763.7 L824.6 1766.0 L826.7 1768.2 L828.9 1770.2 L831.4 1771.8 L834.0 1773.2 L836.8 1774.1 L839.6 1775.2 L842.4 1776.3 L845.3 1777.3 L848.1 1778.3 L850.9 1779.5 L853.7 1780.5 L856.5 1781.4 L859.4 1782.2 L862.4 1782.8 L865.3 1783.3 L868.3 1783.6 L871.3 1783.8 L874.3 1783.8 L877.3 1783.8 L880.3 1783.8 L883.3 1783.7 L886.3 1783.6 L889.3 1783.3 L892.3 1783.1 L895.2 1782.8 L898.2 1782.5 L901.2 1782.2 L904.2 1782.0 L907.1 1781.8 L910.1 1781.5 L913.1 1781.1 L916.1 1780.7 L919.0 1780.3 L922.0 1779.8 L925.0 1779.3 L928.0 1778.9 L930.9 1778.4 L933.9 1778.0 L936.9 1777.5 L939.8 1777.0 L942.8 1776.5 L945.8 1776.1 L948.7 1775.6 L951.7 1775.2 L954.7 1774.8 L957.7 1774.3 L960.6 1773.9 L963.6 1773.5 L966.6 1773.1 L969.5 1772.7 L972.5 1772.3 L975.5 1771.9 L978.5 1771.5 L981.4 1771.2 L984.4 1770.8 L987.4 1770.5 L990.4 1770.2 L993.4 1769.9 L996.3 1769.6 L999.3 1769.4 L1002.3 1769.1 L1005.3 1768.9 L1008.3 1768.6 L1011.3 1768.4 L1014.3 1768.2 L1017.3 1768.0 L1020.3 1767.8 L1023.3 1767.7 L1026.3 1767.5 L1029.3 1767.3 L1032.3 1767.2 L1035.2 1767.0 L1038.2 1766.9 L1041.2 1766.7 L1044.2 1766.6 L1047.2 1766.5 L1050.2 1766.4 L1053.2 1766.2 L1056.2 1766.1 L1059.2 1766.0 L1062.2 1765.9 L1065.2 1765.8 L1068.2 1765.7 L1071.2 1765.6 L1074.2 1765.5 L1077.2 1765.4 L1080.2 1765.3 L1083.2 1765.3 L1086.2 1765.2 L1089.2 1765.1 L1092.2 1765.0 L1095.2 1765.0 L1098.2 1764.9 L1101.2 1764.8 L1104.2 1764.8 L1107.2 1764.7 L1110.2 1764.7 L1113.2 1764.6 L1116.2 1764.5 L1119.2 1764.5 L1122.2 1764.5 L1125.2 1764.4 L1128.2 1764.4 L1131.2 1764.3 L1134.2 1764.3 L1137.2 1764.3 L1140.2 1764.2 L1143.2 1764.2 L1146.2 1764.2 L1149.2 1764.1 L1152.2 1764.1 L1155.2 1764.1 L1158.2 1764.0 L1161.2 1764.0 L1164.2 1764.0 L1167.2 1763.9 L1170.2 1763.9 L1173.2 1763.9 L1176.2 1763.9 L1179.2 1763.8 L1182.2 1763.8 L1185.2 1763.8 L1188.2 1763.8 L1191.2 1763.7 L1194.2 1763.7 L1197.2 1763.7 L1200.2 1763.6 L1203.2 1763.6 L1206.2 1763.6 L1209.2 1763.6 L1212.2 1763.5 L1215.2 1763.5 L1218.2 1763.5 L1221.2 1763.5 L1224.2 1763.5 L1227.2 1763.4 L1230.2 1763.4 L1233.2 1763.4 L1236.2 1763.4 L1239.2 1763.4 L1242.2 1763.4 L1245.2 1763.4 L1248.2 1763.3 L1251.2 1763.3 L1254.2 1763.3 L1257.2 1763.3 L1260.2 1763.3 L1263.2 1763.3 L1266.2 1763.3 L1269.2 1763.3 L1272.2 1763.3 L1275.2 1763.3 L1278.2 1763.3 L1281.2 1763.3 L1284.2 1763.3 L1287.2 1763.2 L1290.2 1763.2 L1293.2 1763.2 L1296.2 1763.2 L1299.2 1763.2 L1302.2 1763.2 L1305.2 1763.2 L1308.2 1763.2 L1311.2 1763.2 L1314.2 1763.2 L1317.2 1763.2 L1320.2 1763.2 L1323.2 1763.1 L1326.2 1763.1 L1329.2 1763.1 L1332.2 1763.1 L1335.2 1763.1 L1338.2 1763.1 L1341.2 1763.0 L1344.2 1763.0 L1347.2 1763.0 L1350.2 1763.0 L1353.2 1763.0 L1356.2 1763.0 L1359.2 1763.0 L1362.2 1763.0 L1365.2 1763.0 L1368.2 1763.1 L1371.2 1763.1 L1374.2 1763.1 L1377.2 1763.1 L1380.2 1763.2 L1383.2 1763.2 L1386.1 1763.3 L1389.1 1763.3 L1392.1 1763.4 L1395.1 1763.5 L1398.1 1763.5 L1401.1 1763.6 L1404.1 1763.7 L1407.1 1763.8 L1410.1 1763.9 L1413.1 1763.9 L1416.1 1764.0 L1419.1 1764.1 L1422.1 1764.2 L1425.1 1764.3 L1428.1 1764.4 L1431.1 1764.5 L1434.1 1764.5 L1437.1 1764.6 L1440.1 1764.7 L1443.1 1764.8 L1446.1 1764.9 L1449.1 1764.9 L1452.1 1765.0 L1455.1 1765.1 L1458.1 1765.2 L1461.1 1765.3 L1464.1 1765.3 L1467.1 1765.4 L1470.1 1765.5 L1473.1 1765.6 L1476.1 1765.6 L1479.1 1765.7 L1482.1 1765.8 L1485.1 1765.8 L1488.1 1765.9 L1491.1 1766.0 L1494.1 1766.1 L1497.1 1766.1 L1500.1 1766.2 L1503.1 1766.3 L1506.1 1766.3 L1509.1 1766.4 L1512.1 1766.5 L1515.1 1766.5 L1518.1 1766.6 L1521.1 1766.7 L1524.1 1766.7 L1527.1 1766.8 L1530.1 1766.9 L1533.1 1766.9 L1536.1 1767.0 L1539.1 1767.1 L1542.1 1767.2 L1545.1 1767.2 L1548.1 1767.3 L1551.1 1767.4 L1554.1 1767.5 L1557.1 1767.5 L1560.1 1767.6 L1563.1 1767.7 L1566.1 1767.8 L1569.1 1767.9 L1572.1 1768.0 L1575.1 1768.0 L1578.1 1768.1 L1581.1 1768.2 L1584.1 1768.3 L1587.1 1768.4 L1590.1 1768.5 L1593.0 1768.6 L1596.0 1768.7 L1599.0 1768.8 L1602.0 1768.9 L1605.0 1769.0 L1608.0 1769.1 L1611.0 1769.2 L1614.0 1769.3 L1617.0 1769.4 L1620.0 1769.5 L1623.0 1769.6 L1626.0 1769.7 L1629.0 1769.8 L1632.0 1769.9 L1635.0 1770.0 L1638.0 1770.1 L1641.0 1770.2 L1644.0 1770.3 L1647.0 1770.4 L1650.0 1770.5 L1653.0 1770.6 L1656.0 1770.7 L1659.0 1770.8 L1662.0 1770.9 L1665.0 1771.0" fill="none" stroke="#000000" stroke-width="8.3" stroke-linejoin="round" stroke-linecap="round"/>
<path d="M1665.0 1807.8 L1662.0 1807.8 L1659.0 1807.8 L1656.0 1807.8 L1653.0 1807.8 L1650.0 1807.8 L1647.0 1807.8 L1644.0 1807.8 L1641.0 1807.8 L1638.0 1807.8 L1635.0 1807.8 L1632.0 1807.8 L1629.0 1807.8 L1626.0 1807.8 L1623.0 1807.8 L1620.0 1807.8 L1617.0 1807.8 L1614.0 1807.8 L1611.0 1807.8 L1608.0 1807.8 L1605.0 1807.8 L1602.0 1807.8 L1598.9 1807.8 L1595.9 1807.8 L1592.9 1807.8 L1589.9 1807.8 L1586.9 1807.8 L1583.9 1807.8 L1580.9 1807.8 L1577.9 1807.8 L1574.9 1807.8 L1571.9 1807.8 L1568.9 1807.8 L1565.9 1807.8 L1562.9 1807.8 L1559.9 1807.8 L1556.9 1807.8 L1553.9 1807.8 L1550.9 1807.8 L1547.9 1807.8 L1544.9 1807.8 L1541.9 1807.8 L1538.9 1807.8 L1535.9 1807.8 L1532.9 1807.8 L1529.9 1807.8 L1526.9 1807.8 L1523.9 1807.8 L1520.9 1807.8 L1517.9 1807.8 L1514.9 1807.8 L1511.9 1807.8 L1508.9 1807.8 L1505.9 1807.8 L1502.9 1807.8 L1499.9 1807.8 L1496.9 1807.8 L1493.9 1807.8 L1490.9 1807.8 L1487.9 1807.8 L1484.9 1807.8 L1481.9 1807.8 L1478.9 1807.8 L1475.9 1807.8 L1472.9 1807.8 L1469.8 1807.8 L1466.8 1807.8 L1463.8 1807.8 L1460.8 1807.8 L1457.8 1807.8 L1454.8 1807.8 L1451.8 1807.8 L1448.8 1807.8 L1445.8 1807.8 L1442.8 1807.8 L1439.8 1807.8 L1436.8 1807.8 L1433.8 1807.8 L1430.8 1807.8 L1427.8 1807.8 L1424.8 1807.8 L1421.8 1807.8 L1418.8 1807.8 L1415.8 1807.8 L1412.8 1807.8 L1409.8 1807.8 L1406.8 1807.8 L1403.8 1807.8 L1400.8 1807.8 L1397.8 1807.8 L1394.8 1807.8 L1391.8 1807.8 L1388.8 1807.8 L1385.8 1807.8 L1382.8 1807.8 L1379.8 1807.8 L1376.8 1807.8 L1373.8 1807.8 L1370.8 1807.9 L1367.8 1807.9 L1364.8 1807.9 L1361.8 1807.9 L1358.8 1807.9 L1355.8 1807.9 L1352.8 1807.9 L1349.8 1807.9 L1346.8 1807.9 L1343.8 1807.9 L1340.7 1807.9 L1337.7 1807.9 L1334.7 1807.9 L1331.7 1807.9 L1328.7 1807.9 L1325.7 1807.9 L1322.7 1808.0 L1319.7 1808.0 L1316.7 1808.0 L1313.7 1808.0 L1310.7 1808.0 L1307.7 1808.0 L1304.7 1808.0 L1301.7 1808.0 L1298.7 1808.0 L1295.7 1808.0 L1292.7 1808.0 L1289.7 1808.0 L1286.7 1808.0 L1283.7 1808.0 L1280.7 1808.0 L1277.7 1808.1 L1274.7 1808.1 L1271.7 1808.1 L1268.7 1808.1 L1265.7 1808.1 L1262.7 1808.1 L1259.7 1808.1 L1256.7 1808.1 L1253.7 1808.1 L1250.7 1808.1 L1247.7 1808.1 L1244.7 1808.2 L1241.7 1808.2 L1238.7 1808.2 L1235.7 1808.2 L1232.7 1808.2 L1229.7 1808.2 L1226.7 1808.2 L1223.7 1808.3 L1220.7 1808.3 L1217.7 1808.3 L1214.7 1808.3 L1211.6 1808.3 L1208.6 1808.3 L1205.6 1808.3 L1202.6 1808.4 L1199.6 1808.4 L1196.6 1808.4 L1193.6 1808.4 L1190.6 1808.5 L1187.6 1808.5 L1184.6 1808.5 L1181.6 1808.5 L1178.6 1808.6 L1175.6 1808.6 L1172.6 1808.6 L1169.6 1808.7 L1166.6 1808.7 L1163.6 1808.8 L1160.6 1808.8 L1157.6 1808.8 L1154.6 1808.9 L1151.6 1809.0 L1148.6 1809.0 L1145.6 1809.1 L1142.6 1809.1 L1139.6 1809.2 L1136.6 1809.3 L1133.6 1809.4 L1130.6 1809.5 L1127.6 1809.6 L1124.6 1809.6 L1121.6 1809.7 L1118.6 1809.8 L1115.6 1809.9 L1112.6 1810.0 L1109.6 1810.1 L1106.6 1810.2 L1103.6 1810.3 L1100.6 1810.4 L1097.6 1810.5 L1094.6 1810.6 L1091.6 1810.8 L1088.6 1810.9 L1085.6 1811.0 L1082.6 1811.1 L1079.6 1811.2 L1076.6 1811.3 L1073.6 1811.4 L1070.6 1811.5 L1067.6 1811.6 L1064.6 1811.8 L1061.6 1812.0 L1058.6 1812.1 L1055.6 1812.2 L1052.6 1812.3 L1049.6 1812.5 L1046.6 1812.6 L1043.6 1812.7 L1040.6 1812.9 L1037.6 1813.1 L1034.6 1813.2 L1031.6 1813.4 L1028.6 1813.6 L1025.6 1813.8 L1022.6 1814.0 L1019.6 1814.3 L1016.6 1814.5 L1013.6 1814.7 L1010.6 1815.0 L1007.7 1815.2 L1004.7 1815.5 L1001.7 1815.8 L998.7 1816.0 L995.7 1816.3 L992.7 1816.6 L989.7 1816.8 L986.7 1817.1 L983.7 1817.4 L980.7 1817.7 L977.8 1818.0 L974.8 1818.3 L971.8 1818.6 L968.8 1818.9 L965.8 1819.2 L962.8 1819.5 L959.8 1819.7 L956.8 1820.0 L953.8 1820.3 L950.9 1820.6 L947.9 1820.9 L944.9 1821.2 L941.9 1821.4 L938.9 1821.7 L935.9 1822.0 L932.9 1822.3 L929.9 1822.5 L926.9 1822.8 L924.0 1823.1 L921.0 1823.3 L918.0 1823.6 L915.0 1823.9 L912.0 1824.1 L909.0 1824.4 L906.0 1824.6 L903.0 1824.9 L900.0 1825.1 L897.0 1825.4 L894.0 1825.6 L891.1 1825.9 L888.1 1826.2 L885.1 1826.4 L882.1 1826.7 L879.1 1826.9 L876.1 1827.2 L873.1 1827.4 L870.1 1827.7 L867.1 1828.0 L864.1 1828.2 L861.1 1828.5 L858.2 1828.7 L855.2 1829.0 L852.2 1829.3 L849.2 1829.5 L846.2 1829.8 L843.2 1830.1 L840.2 1830.4 L837.2 1830.7 L834.2 1831.0 L831.3 1831.3 L828.3 1831.6 L825.3 1831.9 L822.3 1832.3 L819.3 1832.6 L816.3 1833.0 L813.4 1833.3 L810.4 1833.7 L807.4 1834.0 L804.4 1834.4 L801.4 1834.8 L798.5 1835.2 L795.5 1835.6 L792.5 1836.0 L789.5 1836.4 L786.6 1836.8 L783.6 1837.2 L780.6 1837.7 L777.7 1838.1 L774.7 1838.6 L771.7 1839.0 L768.8 1839.5 L765.8 1840.0 L762.8 1840.5 L759.9 1841.0 L756.9 1841.5 L754.0 1842.1 L751.0 1842.6 L748.1 1843.2 L745.1 1843.7 L742.2 1844.3 L739.2 1844.8 L736.3 1845.4 L733.3 1846.1 L730.4 1846.7 L727.5 1847.3 L724.5 1847.9 L721.6 1848.6 L718.7 1849.3 L715.8 1850.0 L712.8 1850.7 L709.9 1851.4 L707.0 1852.2 L704.1 1852.9 L701.2 1853.7 L698.3 1854.3 L695.3 1855.0 L692.4 1855.7 L689.5 1856.5 L686.6 1857.3 L683.8 1858.2 L680.9 1859.2 L678.1 1860.2 L675.3 1861.2 L672.5 1862.2 L669.6 1863.3 L666.9 1864.5 L664.2 1865.8 L661.5 1867.1 L658.8 1868.5 L656.2 1869.9 L653.6 1871.5 L651.2 1873.1 L648.7 1874.8 L646.2 1876.5 L643.8 1878.4 L641.5 1880.3 L641.5 1880.3 L644.4 1881.1 L647.3 1881.8 L650.2 1882.5 L653.2 1883.0 L656.1 1883.5 L659.1 1883.9 L662.0 1884.3 L665.0 1884.7 L668.0 1885.0 L671.0 1885.4 L674.0 1885.6 L677.0 1885.9 L679.9 1886.2 L682.9 1886.5 L685.9 1886.7 L688.9 1886.8 L691.9 1886.8 L694.9 1886.7 L697.9 1886.6 L700.8 1886.4 L703.8 1886.1 L706.8 1885.8 L709.7 1885.4 L712.7 1885.0 L715.7 1884.5 L718.6 1884.0 L721.6 1883.5 L724.5 1883.0 L727.5 1882.4 L730.4 1881.8 L733.3 1881.1 L736.2 1880.4 L739.1 1879.5 L741.9 1878.6 L744.8 1877.6 L747.6 1876.6 L750.4 1875.5 L753.2 1874.5 L756.0 1873.4 L758.8 1872.4 L761.7 1871.5 L764.5 1870.6 L767.4 1869.8 L770.3 1869.1 L773.2 1868.4 L776.2 1867.8 L779.1 1867.3 L782.1 1866.8 L785.0 1866.3 L788.0 1865.8 L790.9 1865.3 L793.9 1864.8 L796.8 1864.3 L799.8 1863.8 L802.7 1863.3 L805.7 1862.7 L808.6 1862.2 L811.6 1861.7 L814.5 1861.2 L817.5 1860.7 L820.5 1860.2 L823.4 1859.7 L826.4 1859.1 L829.3 1858.6 L832.3 1858.1 L835.2 1857.6 L838.2 1857.1 L841.1 1856.6 L844.1 1856.1 L847.0 1855.6 L850.0 1855.1 L852.9 1854.5 L855.9 1854.0 L858.8 1853.5 L861.8 1853.0 L864.7 1852.4 L867.7 1851.9 L870.6 1851.3 L873.6 1850.8 L876.5 1850.3 L879.5 1849.8 L882.4 1849.3 L885.4 1848.8 L888.3 1848.4 L891.3 1847.9 L894.3 1847.5 L897.2 1847.1 L900.2 1846.7 L903.2 1846.3 L906.1 1845.9 L909.1 1845.6 L912.1 1845.3 L915.1 1845.0 L918.1 1844.7 L921.0 1844.4 L924.0 1844.1 L927.0 1843.8 L930.0 1843.5 L933.0 1843.2 L935.9 1842.8 L938.9 1842.5 L941.9 1842.2 L944.9 1841.8 L947.8 1841.4 L950.8 1841.0 L953.8 1840.6 L956.8 1840.3 L959.7 1839.9 L962.7 1839.5 L965.7 1839.2 L968.7 1838.9 L971.6 1838.5 L974.6 1838.2 L977.6 1837.8 L980.6 1837.5 L983.5 1837.1 L986.5 1836.8 L989.5 1836.4 L992.5 1836.1 L995.4 1835.7 L998.4 1835.3 L1001.4 1834.9 L1004.4 1834.5 L1007.3 1834.1 L1010.3 1833.7 L1013.3 1833.3 L1016.2 1832.9 L1019.2 1832.4 L1022.2 1832.0 L1025.1 1831.5 L1028.1 1831.1 L1031.0 1830.7 L1034.0 1830.2 L1037.0 1829.8 L1039.9 1829.3 L1042.9 1828.9 L1045.9 1828.5 L1048.8 1828.0 L1051.8 1827.6 L1054.8 1827.1 L1057.7 1826.7 L1060.7 1826.2 L1063.6 1825.8 L1066.6 1825.3 L1069.6 1824.8 L1072.5 1824.4 L1075.5 1823.9 L1078.4 1823.4 L1081.4 1822.9 L1084.3 1822.4 L1087.3 1821.9 L1090.3 1821.4 L1093.2 1820.9 L1096.2 1820.4 L1099.1 1819.9 L1102.1 1819.4 L1105.0 1818.9 L1108.0 1818.4 L1110.9 1817.9 L1113.9 1817.4 L1116.9 1817.0 L1119.8 1816.5 L1122.8 1816.1 L1125.8 1815.7 L1128.7 1815.3 L1131.7 1814.9 L1134.7 1814.6 L1137.7 1814.3 L1140.6 1814.0 L1143.6 1813.7 L1146.6 1813.5 L1149.6 1813.3 L1152.6 1813.1 L1155.6 1812.9 L1158.6 1812.8 L1161.6 1812.7 L1164.6 1812.6 L1167.6 1812.5 L1170.6 1812.5 L1173.6 1812.4 L1176.6 1812.3 L1179.5 1812.3 L1182.5 1812.3 L1185.5 1812.2 L1188.5 1812.2 L1191.5 1812.2 L1194.5 1812.1 L1197.5 1812.1 L1200.5 1812.1 L1203.5 1812.1 L1206.5 1812.1 L1209.5 1812.0 L1212.5 1812.0 L1215.5 1812.0 L1218.5 1812.0 L1221.5 1811.9 L1224.5 1811.9 L1227.5 1811.9 L1230.5 1811.9 L1233.5 1811.9 L1236.5 1811.9 L1239.5 1811.8 L1242.5 1811.8 L1245.5 1811.8 L1248.5 1811.8 L1251.5 1811.7 L1254.5 1811.7 L1257.5 1811.7 L1260.5 1811.7 L1263.5 1811.7 L1266.4 1811.6 L1269.4 1811.6 L1272.4 1811.6 L1275.4 1811.6 L1278.4 1811.5 L1281.4 1811.5 L1284.4 1811.5 L1287.4 1811.5 L1290.4 1811.5 L1293.4 1811.5 L1296.4 1811.4 L1299.4 1811.4 L1302.4 1811.4 L1305.4 1811.4 L1308.4 1811.4 L1311.4 1811.3 L1314.4 1811.3 L1317.4 1811.3 L1320.4 1811.3 L1323.4 1811.3 L1326.4 1811.3 L1329.4 1811.2 L1332.4 1811.2 L1335.4 1811.2 L1338.4 1811.2 L1341.4 1811.2 L1344.4 1811.2 L1347.4 1811.2 L1350.4 1811.1 L1353.4 1811.1 L1356.3 1811.1 L1359.3 1811.1 L1362.3 1811.1 L1365.3 1811.1 L1368.3 1811.1 L1371.3 1811.0 L1374.3 1811.0 L1377.3 1811.0 L1380.3 1811.0 L1383.3 1811.0 L1386.3 1811.0 L1389.3 1811.0 L1392.3 1810.9 L1395.3 1810.9 L1398.3 1810.9 L1401.3 1810.9 L1404.3 1810.9 L1407.3 1810.9 L1410.3 1810.9 L1413.3 1810.8 L1416.3 1810.8 L1419.3 1810.8 L1422.3 1810.8 L1425.3 1810.8 L1428.3 1810.8 L1431.3 1810.8 L1434.3 1810.8 L1437.3 1810.7 L1440.3 1810.7 L1443.2 1810.7 L1446.2 1810.7 L1449.2 1810.7 L1452.2 1810.7 L1455.2 1810.7 L1458.2 1810.7 L1461.2 1810.7 L1464.2 1810.6 L1467.2 1810.6 L1470.2 1810.6 L1473.2 1810.6 L1476.2 1810.6 L1479.2 1810.6 L1482.2 1810.6 L1485.2 1810.6 L1488.2 1810.5 L1491.2 1810.5 L1494.2 1810.5 L1497.2 1810.5 L1500.2 1810.5 L1503.2 1810.5 L1506.2 1810.5 L1509.2 1810.5 L1512.2 1810.5 L1515.2 1810.5 L1518.2 1810.5 L1521.2 1810.5 L1524.2 1810.5 L1527.2 1810.4 L1530.2 1810.4 L1533.1 1810.4 L1536.1 1810.4 L1539.1 1810.4 L1542.1 1810.4 L1545.1 1810.4 L1548.1 1810.4 L1551.1 1810.4 L1554.1 1810.4 L1557.1 1810.4 L1560.1 1810.4 L1563.1 1810.4 L1566.1 1810.4 L1569.1 1810.4 L1572.1 1810.4 L1575.1 1810.4 L1578.1 1810.4 L1581.1 1810.4 L1584.1 1810.3 L1587.1 1810.3 L1590.1 1810.3 L1593.1 1810.3 L1596.1 1810.3 L1599.1 1810.3 L1602.1 1810.3 L1605.1 1810.3 L1608.1 1810.3 L1611.1 1810.3 L1614.1 1810.3 L1617.1 1810.3 L1620.1 1810.3 L1623.0 1810.3 L1626.0 1810.3 L1629.0 1810.3 L1632.0 1810.3 L1635.0 1810.3 L1638.0 1810.2 L1641.0 1810.2 L1644.0 1810.2 L1647.0 1810.2 L1650.0 1810.2 L1653.0 1810.2 L1656.0 1810.2 L1659.0 1810.2 L1662.0 1810.2 L1665.0 1810.2" fill="none" stroke="#ff0080" stroke-width="7.8" stroke-linejoin="round" stroke-linecap="round"/>
</g>
<text class="tkb" transform="translate(279 1683.78) scale(1 1.05)" text-anchor="end">200</text>
<text class="tkb" transform="translate(279 1828.0) scale(1 1.05)" text-anchor="end">0</text>
<text class="tkb" transform="translate(279 1972.22) scale(1 1.05)" text-anchor="end">-200</text>
<text class="tkb" transform="translate(279 2116.44) scale(1 1.05)" text-anchor="end">-400</text>
<text class="tkb" transform="translate(279 2260.66) scale(1 1.05)" text-anchor="end">-600</text>
<text class="tkb" transform="translate(279 2404.88) scale(1 1.05)" text-anchor="end">-800</text>
<text class="tkb" transform="translate(279 2549.1) scale(1 1.05)" text-anchor="end">-1000</text>
<text class="tkb" transform="translate(279 2693.32) scale(1 1.05)" text-anchor="end">-1200</text>
<text class="tkb" transform="translate(350.99 2759.5) scale(1 1.05)" text-anchor="middle">-1.8</text>
<text class="tkb" transform="translate(568.96 2759.5) scale(1 1.05)" text-anchor="middle">-1.5</text>
<text class="tkb" transform="translate(786.93 2759.5) scale(1 1.05)" text-anchor="middle">-1.2</text>
<text class="tkb" transform="translate(1004.9 2759.5) scale(1 1.05)" text-anchor="middle">-0.9</text>
<text class="tkb" transform="translate(1222.86 2759.5) scale(1 1.05)" text-anchor="middle">-0.6</text>
<text class="tkb" transform="translate(1440.83 2759.5) scale(1 1.05)" text-anchor="middle">-0.3</text>
<text class="tkb" transform="translate(1658.8 2759.5) scale(1 1.05)" text-anchor="middle">0.0</text>
<path class="ln" stroke-width="1.6" d="M315.05 1591.67 H1658.8 M315.05 1663.78 H293.05 M315.05 1808.0 H293.05 M315.05 1952.22 H293.05 M315.05 2096.44 H293.05 M315.05 2240.66 H293.05 M315.05 2384.88 H293.05 M315.05 2529.1 H293.05 M315.05 2673.32 H293.05 M315.05 1591.67 H304.55 M315.05 1735.89 H304.55 M315.05 1880.11 H304.55 M315.05 2024.33 H304.55 M315.05 2168.55 H304.55 M315.05 2312.77 H304.55 M315.05 2456.99 H304.55 M315.05 2601.21 H304.55"/>
<path class="ln" stroke-width="1.7" d="M315.05 2673.1 H1658.8"/>
<path class="ln" stroke-width="1.8" d="M315.05 1590.87 V2673.9 M1658.8 1590.87 V2673.9 M350.99 2673.1 V2694.1 M568.96 2673.1 V2694.1 M786.93 2673.1 V2694.1 M1004.9 2673.1 V2694.1 M1222.86 2673.1 V2694.1 M1440.83 2673.1 V2694.1 M1658.8 2673.1 V2694.1 M459.98 2673.1 V2683.1 M677.94 2673.1 V2683.1 M895.91 2673.1 V2683.1 M1113.88 2673.1 V2683.1 M1331.85 2673.1 V2683.1 M1549.82 2673.1 V2683.1"/>
<text class="lbb" x="723.5" y="2881">E / V <tspan font-style="italic">vs</tspan>. NHE</text>
<text class="lbb" transform="translate(109.5 2186.5) rotate(-90) scale(0.985 1)" x="0" y="0">i /µA</text>
<text class="pnb" x="359" y="1707">(b)</text>
</g>
</svg>
</body>
</html>
